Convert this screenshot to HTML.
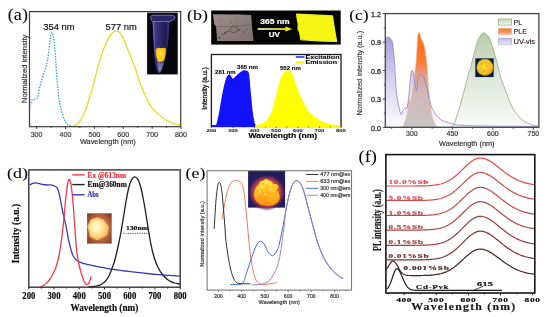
<!DOCTYPE html>
<html><head><meta charset="utf-8"><style>
html,body{margin:0;padding:0;background:#fff;}
body{width:550px;height:317px;overflow:hidden;}
svg{display:block;will-change:transform;}
</style></head><body>
<svg xmlns="http://www.w3.org/2000/svg" width="550" height="317" viewBox="0 0 550 317" shape-rendering="geometricPrecision">
<rect width="550" height="317" fill="#fff"/>
<text x="7.8" y="20.1" font-family="'Liberation Serif', serif" font-size="15.7" stroke="#222" stroke-width="0.05" textLength="20.2" lengthAdjust="spacingAndGlyphs">(a)</text>
<path d="M69.5 126.3 C69.85 126.3 70.6 126.48 71.6 126.3 C72.6 126.12 74.13 126.05 75.5 125.2 C76.87 124.35 78.55 122.82 79.8 121.2 C81.05 119.58 81.92 117.72 83 115.5 C84.08 113.28 85.22 110.82 86.3 107.9 C87.38 104.98 88.42 101.52 89.5 98 C90.58 94.48 91.72 90.72 92.8 86.8 C93.88 82.88 94.9 78.67 96 74.5 C97.1 70.33 98.17 65.95 99.4 61.8 C100.63 57.65 102.08 53.13 103.4 49.6 C104.72 46.07 106.12 43.03 107.3 40.6 C108.48 38.17 109.47 36.43 110.5 35 C111.53 33.57 112.55 32.63 113.5 32 C114.45 31.37 115.32 31.23 116.2 31.2 C117.08 31.17 117.95 31.13 118.8 31.8 C119.65 32.47 120.35 33.58 121.3 35.2 C122.25 36.82 123.45 39.17 124.5 41.5 C125.55 43.83 126.55 46.62 127.6 49.2 C128.65 51.78 129.57 53.98 130.8 57 C132.03 60.02 133.77 63.88 135 67.3 C136.23 70.72 137.12 74.25 138.2 77.5 C139.28 80.75 140.4 83.95 141.5 86.8 C142.6 89.65 143.72 92.17 144.8 94.6 C145.88 97.03 146.8 99.2 148 101.4 C149.2 103.6 150.67 106.03 152 107.8 C153.33 109.57 154.67 110.7 156 112 C157.33 113.3 158.73 114.57 160 115.6 C161.27 116.63 162.35 117.37 163.6 118.2 C164.85 119.03 166.18 119.87 167.5 120.6 C168.82 121.33 170.17 122.05 171.5 122.6 C172.83 123.15 174.17 123.53 175.5 123.9 C176.83 124.27 178.63 124.62 179.5 124.8 C180.37 124.98 180.5 124.97 180.7 125" fill="none" stroke="#e6dd22" stroke-width="1.3"/>
<path d="M29.6 106 C29.83 105.42 30.52 103.6 31 102.5 C31.48 101.4 31.73 99.95 32.5 99.4 C33.27 98.85 34.75 99.57 35.6 99.2 C36.45 98.83 36.97 98.98 37.6 97.2 C38.23 95.42 38.68 91.45 39.4 88.5 C40.12 85.55 41.07 82.33 41.9 79.5 C42.73 76.67 43.68 73.75 44.4 71.5 C45.12 69.25 45.67 67.92 46.2 66 C46.73 64.08 47.2 62.17 47.6 60 C48 57.83 48.27 55.67 48.6 53 C48.93 50.33 49.27 46.75 49.6 44 C49.93 41.25 50.23 38.42 50.6 36.5 C50.97 34.58 51.4 32.83 51.8 32.5 C52.2 32.17 52.6 32.92 53 34.5 C53.4 36.08 53.83 38.92 54.2 42 C54.57 45.08 54.92 49.33 55.2 53 C55.48 56.67 55.6 59.58 55.9 64 C56.2 68.42 56.6 74.75 57 79.5 C57.4 84.25 57.87 88.67 58.3 92.5 C58.73 96.33 58.97 99.12 59.6 102.5 C60.23 105.88 61.27 109.85 62.1 112.8 C62.93 115.75 63.87 118.42 64.6 120.2 C65.33 121.98 65.87 122.65 66.5 123.5 C67.13 124.35 67.73 124.88 68.4 125.3 C69.07 125.72 69.87 125.88 70.5 126 C71.13 126.12 71.92 126 72.2 126" fill="none" stroke="#35a4dc" stroke-width="1.35" stroke-dasharray="1.5 1.3"/>
<rect x="29.5" y="11.6" width="151.2" height="115.1" fill="none" stroke="#3a3a3a" stroke-width="1.2"/>
<line x1="36.6" y1="126.7" x2="36.6" y2="128.9" stroke="#3a3a3a" stroke-width="1"/>
<text x="36.6" y="136.8" font-family="'Liberation Sans', sans-serif" font-size="7.9" stroke="#333" stroke-width="0.18" fill="#333" text-anchor="middle" textLength="11.8" lengthAdjust="spacingAndGlyphs">300</text>
<line x1="65.48" y1="126.7" x2="65.48" y2="128.9" stroke="#3a3a3a" stroke-width="1"/>
<text x="65.48" y="136.8" font-family="'Liberation Sans', sans-serif" font-size="7.9" stroke="#333" stroke-width="0.18" fill="#333" text-anchor="middle" textLength="11.8" lengthAdjust="spacingAndGlyphs">400</text>
<line x1="94.36" y1="126.7" x2="94.36" y2="128.9" stroke="#3a3a3a" stroke-width="1"/>
<text x="94.36" y="136.8" font-family="'Liberation Sans', sans-serif" font-size="7.9" stroke="#333" stroke-width="0.18" fill="#333" text-anchor="middle" textLength="11.8" lengthAdjust="spacingAndGlyphs">500</text>
<line x1="123.24" y1="126.7" x2="123.24" y2="128.9" stroke="#3a3a3a" stroke-width="1"/>
<text x="123.24" y="136.8" font-family="'Liberation Sans', sans-serif" font-size="7.9" stroke="#333" stroke-width="0.18" fill="#333" text-anchor="middle" textLength="11.8" lengthAdjust="spacingAndGlyphs">600</text>
<line x1="152.12" y1="126.7" x2="152.12" y2="128.9" stroke="#3a3a3a" stroke-width="1"/>
<text x="152.12" y="136.8" font-family="'Liberation Sans', sans-serif" font-size="7.9" stroke="#333" stroke-width="0.18" fill="#333" text-anchor="middle" textLength="11.8" lengthAdjust="spacingAndGlyphs">700</text>
<line x1="181" y1="126.7" x2="181" y2="128.9" stroke="#3a3a3a" stroke-width="1"/>
<text x="181" y="136.8" font-family="'Liberation Sans', sans-serif" font-size="7.9" stroke="#333" stroke-width="0.18" fill="#333" text-anchor="middle" textLength="11.8" lengthAdjust="spacingAndGlyphs">800</text>
<line x1="51.04" y1="126.7" x2="51.04" y2="128" stroke="#3a3a3a" stroke-width="0.9"/>
<line x1="79.92" y1="126.7" x2="79.92" y2="128" stroke="#3a3a3a" stroke-width="0.9"/>
<line x1="108.8" y1="126.7" x2="108.8" y2="128" stroke="#3a3a3a" stroke-width="0.9"/>
<line x1="137.68" y1="126.7" x2="137.68" y2="128" stroke="#3a3a3a" stroke-width="0.9"/>
<line x1="166.56" y1="126.7" x2="166.56" y2="128" stroke="#3a3a3a" stroke-width="0.9"/>
<text x="79.9" y="143.8" font-family="'Liberation Sans', sans-serif" font-size="7.3" stroke="#333" stroke-width="0.18" fill="#333" textLength="55.9" lengthAdjust="spacingAndGlyphs">Wavelength (nm)</text>
<text x="26.7" y="103" font-family="'Liberation Sans', sans-serif" font-size="6.9" stroke="#333" stroke-width="0.18" fill="#333" textLength="68.3" lengthAdjust="spacingAndGlyphs" transform="rotate(-90 26.7 103)">Normalized intensity</text>
<text x="43.3" y="30.4" font-family="'Liberation Sans', sans-serif" font-size="9.4" stroke="#222" stroke-width="0.18" textLength="31.2" lengthAdjust="spacingAndGlyphs">354 nm</text>
<text x="105.5" y="30.4" font-family="'Liberation Sans', sans-serif" font-size="9.4" stroke="#222" stroke-width="0.18" textLength="31.2" lengthAdjust="spacingAndGlyphs">577 nm</text>
<rect x="147.1" y="12.7" width="30.6" height="61.7" fill="#06060c" stroke="none" stroke-width="1"/>
<defs><linearGradient id="tubeg" x1="0" y1="0" x2="1" y2="0"><stop offset="0" stop-color="#7270cc"/><stop offset="0.15" stop-color="#3a3888"/><stop offset="0.45" stop-color="#2a2a68"/><stop offset="0.75" stop-color="#1c1c4c"/><stop offset="1" stop-color="#38368a"/></linearGradient><radialGradient id="yelg" cx="0.5" cy="0.45" r="0.6"><stop offset="0" stop-color="#ffe23a"/><stop offset="0.7" stop-color="#ffc41a"/><stop offset="1" stop-color="#f0a414"/></radialGradient><linearGradient id="tipg" x1="0" y1="0" x2="0" y2="1"><stop offset="0" stop-color="#9a96e0"/><stop offset="1" stop-color="#c8c6f0"/></linearGradient></defs>
<path d="M152.6 21.3 L169.6 21.3 L168.6 38 L166.3 56 L162.8 68 L160 73.3 L158 72.8 L155.6 66 L154 48 Z" fill="url(#tubeg)" stroke="none" stroke-width="1"/>
<path d="M150.6 16.8 Q151 15.2 153.5 15.2 L171.5 15.2 Q175 15.6 175 17.6 L173.5 19.8 L169.8 21.4 L152.4 21.6 Q150.6 19.6 150.6 16.8 Z" fill="#262664" stroke="#8a86dc" stroke-width="0.8"/>
<path d="M155.6 49 Q158 47.2 161 48.2 Q164 47.2 166 48.6 L165.6 54 L164.2 60.5 Q161 63 157.8 62 L156.2 56 Z" fill="url(#yelg)" stroke="none" stroke-width="1"/>
<path d="M157.6 62.5 Q161 64 164 61.5 L162 68.5 L160 72.6 L158.2 70.5 Z" fill="url(#tipg)" stroke="none" stroke-width="1" opacity="0.55"/>
<line x1="153.3" y1="23" x2="155.3" y2="58" stroke="#8e8ae0" stroke-width="0.7" opacity="0.6"/>
<text x="187.1" y="19.7" font-family="'Liberation Serif', serif" font-size="15.3" stroke="#222" stroke-width="0.05" textLength="20.9" lengthAdjust="spacingAndGlyphs">(b)</text>
<rect x="211.2" y="10.5" width="129.5" height="34.1" fill="#050505" stroke="none" stroke-width="1"/>
<defs><linearGradient id="gcr" x1="0" y1="0" x2="1" y2="1"><stop offset="0" stop-color="#a09090"/><stop offset="0.5" stop-color="#8c7c7c"/><stop offset="1" stop-color="#807070"/></linearGradient></defs>
<path d="M213 14.2 L240 14.6 L251.2 15 L251.8 24.3 L253.4 39.8 L253.4 40.9 L235 40.9 L217.1 40.9 L216.6 33 L216 26.5 L214.3 24.3 Z" fill="url(#gcr)" stroke="none" stroke-width="1"/>
<path d="M216 26.5 Q232 27.5 251.8 24.8" fill="none" stroke="#5a4848" stroke-width="0.6" opacity="0.7"/>
<ellipse cx="234" cy="29.5" rx="4" ry="3" fill="none" stroke="#4a3a3a" stroke-width="0.9" opacity="0.7"/>
<circle cx="219.5" cy="37.5" r="0.9" fill="#3a2a2c" opacity="0.8"/>
<circle cx="222.5" cy="34.5" r="0.8" fill="#3a2a2c" opacity="0.8"/>
<circle cx="225" cy="33" r="0.9" fill="#3a2a2c" opacity="0.8"/>
<circle cx="228" cy="31.5" r="0.7" fill="#3a2a2c" opacity="0.8"/>
<circle cx="239.5" cy="30" r="0.8" fill="#3a2a2c" opacity="0.8"/>
<circle cx="244" cy="32" r="0.7" fill="#3a2a2c" opacity="0.8"/>
<circle cx="247.5" cy="29" r="0.6" fill="#3a2a2c" opacity="0.8"/>
<circle cx="231" cy="22" r="0.6" fill="#3a2a2c" opacity="0.8"/>
<circle cx="237" cy="21" r="0.5" fill="#3a2a2c" opacity="0.8"/>
<circle cx="221" cy="20" r="0.5" fill="#3a2a2c" opacity="0.8"/>
<text x="260.2" y="23.9" font-family="'Liberation Sans', sans-serif" font-size="7.1" stroke="#fff" stroke-width="0.18" font-weight="bold" fill="#fff" textLength="29.4" lengthAdjust="spacingAndGlyphs">365 nm</text>
<defs><linearGradient id="arrg" x1="0" y1="0" x2="1" y2="0"><stop offset="0" stop-color="#ffffff"/><stop offset="1" stop-color="#f0f000"/></linearGradient></defs>
<rect x="257.7" y="28.2" width="28" height="1.6" fill="url(#arrg)" stroke="none" stroke-width="1"/>
<path d="M285.3 26.5 L292.2 29 L285.3 31.5 Z" fill="#f4f400" stroke="none" stroke-width="1"/>
<text x="268.8" y="37" font-family="'Liberation Sans', sans-serif" font-size="7.0" stroke="#fff" stroke-width="0.18" font-weight="bold" fill="#fff" textLength="11.2" lengthAdjust="spacingAndGlyphs">UV</text>
<path d="M296.6 14.2 L332.4 15.8 L334.3 28 L336.6 41.4 L318 40.9 L300.9 39.6 L299.5 32 L298 29.5 L298.2 24 L297.2 19 Z" fill="#f6f614" stroke="#f0f020" stroke-width="1.2" stroke-linejoin="round"/>
<rect x="211.4" y="54.5" width="129.6" height="72" fill="none" stroke="#1a1a1a" stroke-width="1.3"/>
<path d="M211.4 124.9 C212.1 124.9 214.73 125.13 215.6 124.9 C216.47 124.67 216.03 125.48 216.6 123.5 C217.17 121.52 218.27 116.75 219 113 C219.73 109.25 220.33 104.75 221 101 C221.67 97.25 222.33 93.67 223 90.5 C223.67 87.33 224.33 84.33 225 82 C225.67 79.67 226.35 77.77 227 76.5 C227.65 75.23 228.32 74.62 228.9 74.4 C229.48 74.18 229.98 74.63 230.5 75.2 C231.02 75.77 231.58 77.22 232 77.8 C232.42 78.38 232.58 78.75 233 78.7 C233.42 78.65 233.92 78.03 234.5 77.5 C235.08 76.97 235.65 76.28 236.5 75.5 C237.35 74.72 238.77 73.52 239.6 72.8 C240.43 72.08 240.92 71.6 241.5 71.2 C242.08 70.8 242.52 70.57 243.1 70.4 C243.68 70.23 244.25 70.1 245 70.2 C245.75 70.3 247.02 70.67 247.6 71 C248.18 71.33 248.22 71.47 248.5 72.2 C248.78 72.93 249.07 73.85 249.3 75.4 C249.53 76.95 249.72 79.28 249.9 81.5 C250.08 83.72 250.22 86.53 250.4 88.7 C250.58 90.87 250.82 92.67 251 94.5 C251.18 96.33 251.23 97 251.5 99.7 C251.77 102.4 252.22 107.57 252.6 110.7 C252.98 113.83 253.47 116.53 253.8 118.5 C254.13 120.47 254.35 121.48 254.6 122.5 C254.85 123.52 255.07 124.12 255.3 124.6 C255.53 125.08 255.88 125.27 256 125.4 L256 127.1 L212 127.1 L212 126 L211.4 126 Z" fill="#1212fc" stroke="none" stroke-width="1"/>
<path d="M255 125.4 C255.73 125.27 258.15 124.9 259.4 124.6 C260.65 124.3 261.58 124.03 262.5 123.6 C263.42 123.17 264.1 122.68 264.9 122 C265.7 121.32 266.55 120.43 267.3 119.5 C268.05 118.57 268.75 117.57 269.4 116.4 C270.05 115.23 270.65 113.85 271.2 112.5 C271.75 111.15 272.25 109.72 272.7 108.3 C273.15 106.88 273.53 105.42 273.9 104 C274.27 102.58 274.55 101.25 274.9 99.8 C275.25 98.35 275.63 96.78 276 95.3 C276.37 93.82 276.73 92.38 277.1 90.9 C277.47 89.42 277.83 87.83 278.2 86.4 C278.57 84.97 278.83 83.77 279.3 82.3 C279.77 80.83 280.45 78.92 281 77.6 C281.55 76.28 282.02 75.37 282.6 74.4 C283.18 73.43 283.85 72.43 284.5 71.8 C285.15 71.17 285.9 70.85 286.5 70.6 C287.1 70.35 287.52 70.23 288.1 70.3 C288.68 70.37 289.22 70.13 290 71 C290.78 71.87 291.8 73.25 292.8 75.5 C293.8 77.75 294.97 81.67 296 84.5 C297.03 87.33 298 90.03 299 92.5 C300 94.97 300.92 97.05 302 99.3 C303.08 101.55 304.5 104.17 305.5 106 C306.5 107.83 307.15 109.12 308 110.3 C308.85 111.48 309.32 111.85 310.6 113.1 C311.88 114.35 313.82 116.43 315.7 117.8 C317.58 119.17 320.18 120.45 321.9 121.3 C323.62 122.15 324.65 122.45 326 122.9 C327.35 123.35 328.5 123.67 330 124 C331.5 124.33 333.17 124.63 335 124.9 C336.83 125.17 340 125.48 341 125.6 L340.4 127.1 L255 127.1 Z" fill="#ffff00" stroke="none" stroke-width="1"/>
<line x1="211.4" y1="126.5" x2="211.4" y2="127.7" stroke="#222" stroke-width="0.9"/>
<text x="211.4" y="131.9" font-family="'Liberation Sans', sans-serif" font-size="3.9" stroke="#333" stroke-width="0.1" font-weight="bold" fill="#333" text-anchor="middle" textLength="9.8" lengthAdjust="spacingAndGlyphs">200</text>
<line x1="233" y1="126.5" x2="233" y2="127.7" stroke="#222" stroke-width="0.9"/>
<text x="233" y="131.9" font-family="'Liberation Sans', sans-serif" font-size="3.9" stroke="#333" stroke-width="0.1" font-weight="bold" fill="#333" text-anchor="middle" textLength="9.8" lengthAdjust="spacingAndGlyphs">300</text>
<line x1="254.6" y1="126.5" x2="254.6" y2="127.7" stroke="#222" stroke-width="0.9"/>
<text x="254.6" y="131.9" font-family="'Liberation Sans', sans-serif" font-size="3.9" stroke="#333" stroke-width="0.1" font-weight="bold" fill="#333" text-anchor="middle" textLength="9.8" lengthAdjust="spacingAndGlyphs">400</text>
<line x1="276.2" y1="126.5" x2="276.2" y2="127.7" stroke="#222" stroke-width="0.9"/>
<text x="276.2" y="131.9" font-family="'Liberation Sans', sans-serif" font-size="3.9" stroke="#333" stroke-width="0.1" font-weight="bold" fill="#333" text-anchor="middle" textLength="9.8" lengthAdjust="spacingAndGlyphs">500</text>
<line x1="297.8" y1="126.5" x2="297.8" y2="127.7" stroke="#222" stroke-width="0.9"/>
<text x="297.8" y="131.9" font-family="'Liberation Sans', sans-serif" font-size="3.9" stroke="#333" stroke-width="0.1" font-weight="bold" fill="#333" text-anchor="middle" textLength="9.8" lengthAdjust="spacingAndGlyphs">600</text>
<line x1="319.4" y1="126.5" x2="319.4" y2="127.7" stroke="#222" stroke-width="0.9"/>
<text x="319.4" y="131.9" font-family="'Liberation Sans', sans-serif" font-size="3.9" stroke="#333" stroke-width="0.1" font-weight="bold" fill="#333" text-anchor="middle" textLength="9.8" lengthAdjust="spacingAndGlyphs">700</text>
<line x1="341" y1="126.5" x2="341" y2="127.7" stroke="#222" stroke-width="0.9"/>
<text x="341" y="131.9" font-family="'Liberation Sans', sans-serif" font-size="3.9" stroke="#333" stroke-width="0.1" font-weight="bold" fill="#333" text-anchor="middle" textLength="9.8" lengthAdjust="spacingAndGlyphs">800</text>
<line x1="222.2" y1="126.5" x2="222.2" y2="127.4" stroke="#222" stroke-width="0.8"/>
<line x1="243.8" y1="126.5" x2="243.8" y2="127.4" stroke="#222" stroke-width="0.8"/>
<line x1="265.4" y1="126.5" x2="265.4" y2="127.4" stroke="#222" stroke-width="0.8"/>
<line x1="287" y1="126.5" x2="287" y2="127.4" stroke="#222" stroke-width="0.8"/>
<line x1="308.6" y1="126.5" x2="308.6" y2="127.4" stroke="#222" stroke-width="0.8"/>
<line x1="330.2" y1="126.5" x2="330.2" y2="127.4" stroke="#222" stroke-width="0.8"/>
<text x="248.5" y="137.7" font-family="'Liberation Sans', sans-serif" font-size="6.6" stroke="#222" stroke-width="0.18" font-weight="bold" textLength="68.6" lengthAdjust="spacingAndGlyphs">Wavelength (nm)</text>
<text x="206.6" y="109.7" font-family="'Liberation Sans', sans-serif" font-size="6.8" stroke="#222" stroke-width="0.3" textLength="42.5" lengthAdjust="spacingAndGlyphs" transform="rotate(-90 206.6 109.7)">Intensity (a.u.)</text>
<text x="215.1" y="74" font-family="'Liberation Sans', sans-serif" font-size="4.6" stroke="#222" stroke-width="0.1" font-weight="bold" textLength="20.5" lengthAdjust="spacingAndGlyphs">281 nm</text>
<text x="237" y="69.4" font-family="'Liberation Sans', sans-serif" font-size="4.6" stroke="#222" stroke-width="0.1" font-weight="bold" textLength="21" lengthAdjust="spacingAndGlyphs">365 nm</text>
<text x="280" y="70.1" font-family="'Liberation Sans', sans-serif" font-size="4.6" stroke="#222" stroke-width="0.1" font-weight="bold" textLength="20.9" lengthAdjust="spacingAndGlyphs">552 nm</text>
<line x1="295.8" y1="57" x2="304.5" y2="57" stroke="#2030f0" stroke-width="1.6"/>
<line x1="295.8" y1="62.3" x2="304.5" y2="62.3" stroke="#f0f000" stroke-width="1.6"/>
<text x="305.5" y="58.7" font-family="'Liberation Sans', sans-serif" font-size="5.0" stroke="#222" stroke-width="0.1" font-weight="bold" textLength="34" lengthAdjust="spacingAndGlyphs">Excitation</text>
<text x="305.5" y="64.1" font-family="'Liberation Sans', sans-serif" font-size="5.0" stroke="#222" stroke-width="0.1" font-weight="bold" textLength="31.5" lengthAdjust="spacingAndGlyphs">Emission</text>
<text x="349.2" y="19.8" font-family="'Liberation Serif', serif" font-size="15.5" stroke="#222" stroke-width="0.05" textLength="19.5" lengthAdjust="spacingAndGlyphs">(c)</text>
<defs><linearGradient id="uvg" x1="0" y1="37" x2="0" y2="127.3" gradientUnits="userSpaceOnUse"><stop offset="0" stop-color="#8a7cc8"/><stop offset="0.45" stop-color="#c4bce6"/><stop offset="1" stop-color="#f8f7fd"/></linearGradient><linearGradient id="pleg" x1="0" y1="32" x2="0" y2="127.3" gradientUnits="userSpaceOnUse"><stop offset="0" stop-color="#ff6a14"/><stop offset="0.32" stop-color="#fa7c36"/><stop offset="0.45" stop-color="#e4a08c"/><stop offset="0.58" stop-color="#d0b4b2"/><stop offset="1" stop-color="#c8c6c6"/></linearGradient><linearGradient id="plg" x1="0" y1="33" x2="0" y2="127.3" gradientUnits="userSpaceOnUse"><stop offset="0" stop-color="#b8cbaa"/><stop offset="0.5" stop-color="#e0e7dc"/><stop offset="1" stop-color="#f9faf8"/></linearGradient><radialGradient id="sung" cx="0.45" cy="0.45" r="0.55"><stop offset="0" stop-color="#f8d838"/><stop offset="0.75" stop-color="#f0c022"/><stop offset="1" stop-color="#e09a18"/></radialGradient></defs>
<path d="M449 127.2 C449.55 127.1 451.43 127.15 452.3 126.6 C453.17 126.05 453.5 125.5 454.2 123.9 C454.9 122.3 455.72 119.37 456.5 117 C457.28 114.63 458.1 112.37 458.9 109.7 C459.7 107.03 460.5 103.85 461.3 101 C462.1 98.15 462.98 95.27 463.7 92.6 C464.42 89.93 464.97 87.52 465.6 85 C466.23 82.48 466.93 79.67 467.5 77.5 C468.07 75.33 468.53 73.43 469 72 C469.47 70.57 469.77 70.73 470.3 68.9 C470.83 67.07 471.57 63.52 472.2 61 C472.83 58.48 473.47 56.22 474.1 53.8 C474.73 51.38 475.37 48.72 476 46.5 C476.63 44.28 477.23 42.25 477.9 40.5 C478.57 38.75 479.32 37.15 480 36 C480.68 34.85 481.38 34.12 482 33.6 C482.62 33.08 483.1 32.9 483.7 32.9 C484.3 32.9 484.95 33.15 485.6 33.6 C486.25 34.05 486.93 34.77 487.6 35.6 C488.27 36.43 488.9 37.12 489.6 38.6 C490.3 40.08 491.07 42.28 491.8 44.5 C492.53 46.72 493.32 49.57 494 51.9 C494.68 54.23 495.28 56.3 495.9 58.5 C496.52 60.7 497 62.3 497.7 65.1 C498.4 67.9 499.18 72.07 500.1 75.3 C501.02 78.53 502.15 81.57 503.2 84.5 C504.25 87.43 505.35 90.18 506.4 92.9 C507.45 95.62 508.45 98.27 509.5 100.8 C510.55 103.33 511.53 105.95 512.7 108.1 C513.87 110.25 515.23 112.02 516.5 113.7 C517.77 115.38 519.05 116.95 520.3 118.2 C521.55 119.45 522.73 120.37 524 121.2 C525.27 122.03 526.57 122.6 527.9 123.2 C529.23 123.8 530.53 124.37 532 124.8 C533.47 125.23 535.6 125.58 536.7 125.8 C537.8 126.02 538.28 126.05 538.6 126.1 L538.6 127.3 L449 127.3 Z" fill="url(#plg)" stroke="none" stroke-width="1"/>
<path d="M385.6 38.6 C385.75 38.47 386.17 38.03 386.5 37.8 C386.83 37.57 387.23 37.32 387.6 37.2 C387.97 37.08 388.3 36.97 388.7 37.1 C389.1 37.23 389.58 37.58 390 38 C390.42 38.42 390.78 38.87 391.2 39.6 C391.62 40.33 392.13 40.67 392.5 42.4 C392.87 44.13 393.08 46.85 393.4 50 C393.72 53.15 394.08 56.97 394.4 61.3 C394.72 65.63 394.98 71.1 395.3 76 C395.62 80.9 395.92 86.7 396.3 90.7 C396.68 94.7 397.13 97.15 397.6 100 C398.07 102.85 398.53 105.4 399.1 107.8 C399.67 110.2 400.37 113.93 401 114.4 C401.63 114.87 402.33 111.58 402.9 110.6 C403.47 109.62 403.92 108.97 404.4 108.5 C404.88 108.03 405.42 107.77 405.8 107.8 C406.18 107.83 406.4 109.17 406.7 108.7 C407 108.23 407.28 106.73 407.6 105 C407.92 103.27 408.28 101.13 408.6 98.3 C408.92 95.47 409.18 91.47 409.5 88 C409.82 84.53 410.2 80.17 410.5 77.5 C410.8 74.83 411.05 73.2 411.3 72 C411.55 70.8 411.75 70.43 412 70.3 C412.25 70.17 412.57 70.63 412.8 71.2 C413.03 71.77 413.15 72.4 413.4 73.7 C413.65 75 414 77.12 414.3 79 C414.6 80.88 414.92 83.25 415.2 85 C415.48 86.75 415.77 88.55 416 89.5 C416.23 90.45 416.38 91.45 416.6 90.7 C416.82 89.95 417.05 87.2 417.3 85 C417.55 82.8 417.73 79.25 418.1 77.5 C418.47 75.75 419.02 75.13 419.5 74.5 C419.98 73.87 420.5 73.62 421 73.7 C421.5 73.78 422.03 74.37 422.5 75 C422.97 75.63 423.35 76.33 423.8 77.5 C424.25 78.67 424.73 80.43 425.2 82 C425.67 83.57 426.13 85.07 426.6 86.9 C427.07 88.73 427.53 90.78 428 93 C428.47 95.22 428.93 98.2 429.4 100.2 C429.87 102.2 430.32 103.58 430.8 105 C431.28 106.42 431.68 107.45 432.3 108.7 C432.92 109.95 433.72 111.23 434.5 112.5 C435.28 113.77 436.08 115.22 437 116.3 C437.92 117.38 438.83 118.18 440 119 C441.17 119.82 442.67 120.6 444 121.2 C445.33 121.8 446.3 122.07 448 122.6 C449.7 123.13 452.2 123.97 454.2 124.4 C456.2 124.83 457.37 124.98 460 125.2 C462.63 125.42 465 125.55 470 125.7 C475 125.85 478.58 125.97 490 126.1 C501.42 126.23 530.42 126.43 538.5 126.5 L538.5 127.3 L385.6 127.3 Z" fill="url(#uvg)" stroke="none" stroke-width="1" opacity="0.72"/>
<path d="M402 127.2 C402.17 127 402.5 126.87 403 126 C403.5 125.13 404.42 123.5 405 122 C405.58 120.5 406.05 118.73 406.5 117 C406.95 115.27 407.4 113.77 407.7 111.6 C408 109.43 408.15 106.02 408.3 104 C408.45 101.98 408.4 100.08 408.6 99.5 C408.8 98.92 409.18 100.23 409.5 100.5 C409.82 100.77 410.17 101.6 410.5 101.1 C410.83 100.6 411.18 98.92 411.5 97.5 C411.82 96.08 412.08 94.68 412.4 92.6 C412.72 90.52 413.08 87.52 413.4 85 C413.72 82.48 414 80 414.3 77.5 C414.6 75 414.88 72.7 415.2 70 C415.52 67.3 415.9 64.97 416.2 61.3 C416.5 57.63 416.75 52.1 417 48 C417.25 43.9 417.48 39.12 417.7 36.7 C417.92 34.28 418.08 34.22 418.3 33.5 C418.52 32.78 418.75 32.32 419 32.4 C419.25 32.48 419.5 33.15 419.8 34 C420.1 34.85 420.45 36.42 420.8 37.5 C421.15 38.58 421.4 39.37 421.9 40.5 C422.4 41.63 423.28 42.72 423.8 44.3 C424.32 45.88 424.63 47.8 425 50 C425.37 52.2 425.67 54.83 426 57.5 C426.33 60.17 426.73 63.42 427 66 C427.27 68.58 427.38 69.83 427.6 73 C427.82 76.17 428 81.1 428.3 85 C428.6 88.9 429.05 93.07 429.4 96.4 C429.75 99.73 430.08 102.15 430.4 105 C430.72 107.85 430.87 111.08 431.3 113.5 C431.73 115.92 432.37 117.77 433 119.5 C433.63 121.23 434.43 122.72 435.1 123.9 C435.77 125.08 436.52 126.05 437 126.6 C437.48 127.15 437.83 127.1 438 127.2 Z" fill="url(#pleg)" stroke="none" stroke-width="1"/>
<path d="M402 127.2 C402.17 127 402.5 126.87 403 126 C403.5 125.13 404.42 123.5 405 122 C405.58 120.5 406.05 118.73 406.5 117 C406.95 115.27 407.4 113.77 407.7 111.6 C408 109.43 408.15 106.02 408.3 104 C408.45 101.98 408.4 100.08 408.6 99.5 C408.8 98.92 409.18 100.23 409.5 100.5 C409.82 100.77 410.17 101.6 410.5 101.1 C410.83 100.6 411.18 98.92 411.5 97.5 C411.82 96.08 412.08 94.68 412.4 92.6 C412.72 90.52 413.08 87.52 413.4 85 C413.72 82.48 414 80 414.3 77.5 C414.6 75 414.88 72.7 415.2 70 C415.52 67.3 415.9 64.97 416.2 61.3 C416.5 57.63 416.75 52.1 417 48 C417.25 43.9 417.48 39.12 417.7 36.7 C417.92 34.28 418.08 34.22 418.3 33.5 C418.52 32.78 418.75 32.32 419 32.4 C419.25 32.48 419.5 33.15 419.8 34 C420.1 34.85 420.45 36.42 420.8 37.5 C421.15 38.58 421.4 39.37 421.9 40.5 C422.4 41.63 423.28 42.72 423.8 44.3 C424.32 45.88 424.63 47.8 425 50 C425.37 52.2 425.67 54.83 426 57.5 C426.33 60.17 426.73 63.42 427 66 C427.27 68.58 427.38 69.83 427.6 73 C427.82 76.17 428 81.1 428.3 85 C428.6 88.9 429.05 93.07 429.4 96.4 C429.75 99.73 430.08 102.15 430.4 105 C430.72 107.85 430.87 111.08 431.3 113.5 C431.73 115.92 432.37 117.77 433 119.5 C433.63 121.23 434.43 122.72 435.1 123.9 C435.77 125.08 436.52 126.05 437 126.6 C437.48 127.15 437.83 127.1 438 127.2" fill="none" stroke="#f5b888" stroke-width="0.7"/>
<path d="M449 127.2 C449.55 127.1 451.43 127.15 452.3 126.6 C453.17 126.05 453.5 125.5 454.2 123.9 C454.9 122.3 455.72 119.37 456.5 117 C457.28 114.63 458.1 112.37 458.9 109.7 C459.7 107.03 460.5 103.85 461.3 101 C462.1 98.15 462.98 95.27 463.7 92.6 C464.42 89.93 464.97 87.52 465.6 85 C466.23 82.48 466.93 79.67 467.5 77.5 C468.07 75.33 468.53 73.43 469 72 C469.47 70.57 469.77 70.73 470.3 68.9 C470.83 67.07 471.57 63.52 472.2 61 C472.83 58.48 473.47 56.22 474.1 53.8 C474.73 51.38 475.37 48.72 476 46.5 C476.63 44.28 477.23 42.25 477.9 40.5 C478.57 38.75 479.32 37.15 480 36 C480.68 34.85 481.38 34.12 482 33.6 C482.62 33.08 483.1 32.9 483.7 32.9 C484.3 32.9 484.95 33.15 485.6 33.6 C486.25 34.05 486.93 34.77 487.6 35.6 C488.27 36.43 488.9 37.12 489.6 38.6 C490.3 40.08 491.07 42.28 491.8 44.5 C492.53 46.72 493.32 49.57 494 51.9 C494.68 54.23 495.28 56.3 495.9 58.5 C496.52 60.7 497 62.3 497.7 65.1 C498.4 67.9 499.18 72.07 500.1 75.3 C501.02 78.53 502.15 81.57 503.2 84.5 C504.25 87.43 505.35 90.18 506.4 92.9 C507.45 95.62 508.45 98.27 509.5 100.8 C510.55 103.33 511.53 105.95 512.7 108.1 C513.87 110.25 515.23 112.02 516.5 113.7 C517.77 115.38 519.05 116.95 520.3 118.2 C521.55 119.45 522.73 120.37 524 121.2 C525.27 122.03 526.57 122.6 527.9 123.2 C529.23 123.8 530.53 124.37 532 124.8 C533.47 125.23 535.6 125.58 536.7 125.8 C537.8 126.02 538.28 126.05 538.6 126.1" fill="none" stroke="#86b078" stroke-width="0.8"/>
<path d="M385.6 38.6 C385.75 38.47 386.17 38.03 386.5 37.8 C386.83 37.57 387.23 37.32 387.6 37.2 C387.97 37.08 388.3 36.97 388.7 37.1 C389.1 37.23 389.58 37.58 390 38 C390.42 38.42 390.78 38.87 391.2 39.6 C391.62 40.33 392.13 40.67 392.5 42.4 C392.87 44.13 393.08 46.85 393.4 50 C393.72 53.15 394.08 56.97 394.4 61.3 C394.72 65.63 394.98 71.1 395.3 76 C395.62 80.9 395.92 86.7 396.3 90.7 C396.68 94.7 397.13 97.15 397.6 100 C398.07 102.85 398.53 105.4 399.1 107.8 C399.67 110.2 400.37 113.93 401 114.4 C401.63 114.87 402.33 111.58 402.9 110.6 C403.47 109.62 403.92 108.97 404.4 108.5 C404.88 108.03 405.42 107.77 405.8 107.8 C406.18 107.83 406.4 109.17 406.7 108.7 C407 108.23 407.28 106.73 407.6 105 C407.92 103.27 408.28 101.13 408.6 98.3 C408.92 95.47 409.18 91.47 409.5 88 C409.82 84.53 410.2 80.17 410.5 77.5 C410.8 74.83 411.05 73.2 411.3 72 C411.55 70.8 411.75 70.43 412 70.3 C412.25 70.17 412.57 70.63 412.8 71.2 C413.03 71.77 413.15 72.4 413.4 73.7 C413.65 75 414 77.12 414.3 79 C414.6 80.88 414.92 83.25 415.2 85 C415.48 86.75 415.77 88.55 416 89.5 C416.23 90.45 416.38 91.45 416.6 90.7 C416.82 89.95 417.05 87.2 417.3 85 C417.55 82.8 417.73 79.25 418.1 77.5 C418.47 75.75 419.02 75.13 419.5 74.5 C419.98 73.87 420.5 73.62 421 73.7 C421.5 73.78 422.03 74.37 422.5 75 C422.97 75.63 423.35 76.33 423.8 77.5 C424.25 78.67 424.73 80.43 425.2 82 C425.67 83.57 426.13 85.07 426.6 86.9 C427.07 88.73 427.53 90.78 428 93 C428.47 95.22 428.93 98.2 429.4 100.2 C429.87 102.2 430.32 103.58 430.8 105 C431.28 106.42 431.68 107.45 432.3 108.7 C432.92 109.95 433.72 111.23 434.5 112.5 C435.28 113.77 436.08 115.22 437 116.3 C437.92 117.38 438.83 118.18 440 119 C441.17 119.82 442.67 120.6 444 121.2 C445.33 121.8 446.3 122.07 448 122.6 C449.7 123.13 452.2 123.97 454.2 124.4 C456.2 124.83 457.37 124.98 460 125.2 C462.63 125.42 465 125.55 470 125.7 C475 125.85 478.58 125.97 490 126.1 C501.42 126.23 530.42 126.43 538.5 126.5" fill="none" stroke="#8e80c8" stroke-width="0.8"/>
<rect x="474.9" y="57.9" width="19.2" height="19.5" fill="#0b1f3a" stroke="#e4ebe0" stroke-width="0.8"/>
<circle cx="485" cy="67.4" r="8.4" fill="url(#sung)"/>
<circle cx="482" cy="64" r="1.2" fill="#d8a018" opacity="0.55"/>
<circle cx="487.5" cy="66" r="1.1" fill="#d8a018" opacity="0.55"/>
<circle cx="484" cy="70.5" r="1.3" fill="#d8a018" opacity="0.55"/>
<circle cx="488.5" cy="71" r="0.9" fill="#d8a018" opacity="0.55"/>
<circle cx="480.5" cy="68.5" r="0.9" fill="#d8a018" opacity="0.55"/>
<circle cx="485.5" cy="62.5" r="0.8" fill="#d8a018" opacity="0.55"/>
<rect x="385.3" y="13.6" width="153.6" height="113.7" fill="none" stroke="#444" stroke-width="1.3"/>
<line x1="382.7" y1="127.3" x2="385.3" y2="127.3" stroke="#444" stroke-width="1"/>
<text x="380.9" y="130.5" font-family="'Liberation Sans', sans-serif" font-size="7.1" stroke="#333" stroke-width="0.3" fill="#333" text-anchor="end" textLength="10" lengthAdjust="spacingAndGlyphs">0.0</text>
<line x1="382.7" y1="98.88" x2="385.3" y2="98.88" stroke="#444" stroke-width="1"/>
<text x="380.9" y="102.08" font-family="'Liberation Sans', sans-serif" font-size="7.1" stroke="#333" stroke-width="0.3" fill="#333" text-anchor="end" textLength="10" lengthAdjust="spacingAndGlyphs">0.3</text>
<line x1="382.7" y1="70.45" x2="385.3" y2="70.45" stroke="#444" stroke-width="1"/>
<text x="380.9" y="73.65" font-family="'Liberation Sans', sans-serif" font-size="7.1" stroke="#333" stroke-width="0.3" fill="#333" text-anchor="end" textLength="10" lengthAdjust="spacingAndGlyphs">0.6</text>
<line x1="382.7" y1="42.02" x2="385.3" y2="42.02" stroke="#444" stroke-width="1"/>
<text x="380.9" y="45.22" font-family="'Liberation Sans', sans-serif" font-size="7.1" stroke="#333" stroke-width="0.3" fill="#333" text-anchor="end" textLength="10" lengthAdjust="spacingAndGlyphs">0.9</text>
<line x1="382.7" y1="13.6" x2="385.3" y2="13.6" stroke="#444" stroke-width="1"/>
<text x="380.9" y="16.8" font-family="'Liberation Sans', sans-serif" font-size="7.1" stroke="#333" stroke-width="0.3" fill="#333" text-anchor="end" textLength="10" lengthAdjust="spacingAndGlyphs">1.2</text>
<line x1="383.8" y1="113.09" x2="385.3" y2="113.09" stroke="#444" stroke-width="0.9"/>
<line x1="383.8" y1="84.66" x2="385.3" y2="84.66" stroke="#444" stroke-width="0.9"/>
<line x1="383.8" y1="56.24" x2="385.3" y2="56.24" stroke="#444" stroke-width="0.9"/>
<line x1="383.8" y1="27.81" x2="385.3" y2="27.81" stroke="#444" stroke-width="0.9"/>
<line x1="411.9" y1="127.3" x2="411.9" y2="129.7" stroke="#444" stroke-width="1"/>
<text x="411.9" y="135.9" font-family="'Liberation Sans', sans-serif" font-size="7" stroke="#333" stroke-width="0.18" fill="#333" text-anchor="middle" textLength="11.6" lengthAdjust="spacingAndGlyphs">300</text>
<line x1="452.4" y1="127.3" x2="452.4" y2="129.7" stroke="#444" stroke-width="1"/>
<text x="452.4" y="135.9" font-family="'Liberation Sans', sans-serif" font-size="7" stroke="#333" stroke-width="0.18" fill="#333" text-anchor="middle" textLength="11.6" lengthAdjust="spacingAndGlyphs">450</text>
<line x1="492.9" y1="127.3" x2="492.9" y2="129.7" stroke="#444" stroke-width="1"/>
<text x="492.9" y="135.9" font-family="'Liberation Sans', sans-serif" font-size="7" stroke="#333" stroke-width="0.18" fill="#333" text-anchor="middle" textLength="11.6" lengthAdjust="spacingAndGlyphs">600</text>
<line x1="533.4" y1="127.3" x2="533.4" y2="129.7" stroke="#444" stroke-width="1"/>
<text x="533.4" y="135.9" font-family="'Liberation Sans', sans-serif" font-size="7" stroke="#333" stroke-width="0.18" fill="#333" text-anchor="middle" textLength="11.6" lengthAdjust="spacingAndGlyphs">750</text>
<line x1="391.65" y1="127.3" x2="391.65" y2="128.8" stroke="#444" stroke-width="0.9"/>
<line x1="432.15" y1="127.3" x2="432.15" y2="128.8" stroke="#444" stroke-width="0.9"/>
<line x1="472.65" y1="127.3" x2="472.65" y2="128.8" stroke="#444" stroke-width="0.9"/>
<line x1="513.15" y1="127.3" x2="513.15" y2="128.8" stroke="#444" stroke-width="0.9"/>
<text x="439.1" y="146.2" font-family="'Liberation Sans', sans-serif" font-size="7.3" stroke="#333" stroke-width="0.18" fill="#333" textLength="55.4" lengthAdjust="spacingAndGlyphs">Wavelength (nm)</text>
<text x="361.8" y="115.4" font-family="'Liberation Sans', sans-serif" font-size="7.0" stroke="#444" stroke-width="0.18" fill="#444" textLength="84.5" lengthAdjust="spacingAndGlyphs" transform="rotate(-90 361.8 115.4)">Normalized intensity (a.u.)</text>
<defs><linearGradient id="lg1" x1="0" y1="0" x2="0" y2="1"><stop offset="0" stop-color="#c0d4b2"/><stop offset="1" stop-color="#f4f7f2"/></linearGradient><linearGradient id="lg2" x1="0" y1="0" x2="0" y2="1"><stop offset="0" stop-color="#ff7020"/><stop offset="0.5" stop-color="#f59060"/><stop offset="1" stop-color="#d9b8b0"/></linearGradient><linearGradient id="lg3" x1="0" y1="0" x2="0" y2="1"><stop offset="0" stop-color="#c0b6e6"/><stop offset="1" stop-color="#ece8f8"/></linearGradient></defs>
<rect x="498.3" y="18.9" width="13.3" height="6.3" fill="url(#lg1)" stroke="#8cb47e" stroke-width="0.7"/>
<rect x="498.3" y="28.5" width="13.3" height="6" fill="url(#lg2)" stroke="#f5a070" stroke-width="0.5"/>
<rect x="498.3" y="38.2" width="13.3" height="6" fill="url(#lg3)" stroke="#a89ad8" stroke-width="0.6"/>
<text x="513.6" y="24.8" font-family="'Liberation Sans', sans-serif" font-size="7.8" stroke="#3a2626" stroke-width="0.18" fill="#3a2626" textLength="8.6" lengthAdjust="spacingAndGlyphs">PL</text>
<text x="513.6" y="34.2" font-family="'Liberation Sans', sans-serif" font-size="7.8" stroke="#3a2626" stroke-width="0.18" fill="#3a2626" textLength="13.4" lengthAdjust="spacingAndGlyphs">PLE</text>
<text x="513.6" y="43.6" font-family="'Liberation Sans', sans-serif" font-size="7.8" stroke="#3a2626" stroke-width="0.18" fill="#3a2626" textLength="21.5" lengthAdjust="spacingAndGlyphs">UV-vis</text>
<text x="7.1" y="177.7" font-family="'Liberation Serif', serif" font-size="15.1" stroke="#222" stroke-width="0.05" textLength="20.9" lengthAdjust="spacingAndGlyphs">(d)</text>
<defs><radialGradient id="dbg" cx="0.5" cy="0.5" r="0.72"><stop offset="0" stop-color="#e08a48"/><stop offset="0.5" stop-color="#c06a3c"/><stop offset="0.85" stop-color="#8a4430"/><stop offset="1" stop-color="#5e2e24"/></radialGradient><radialGradient id="dcr" cx="0.42" cy="0.42" r="0.6"><stop offset="0" stop-color="#fffbe0"/><stop offset="0.45" stop-color="#ffeaa0"/><stop offset="0.85" stop-color="#fcc870"/><stop offset="1" stop-color="#f4a858"/></radialGradient></defs>
<rect x="87.1" y="213.3" width="24.6" height="30.3" fill="url(#dbg)" stroke="none" stroke-width="1"/>
<path d="M91.5 219.6 L97.5 217.8 L103.5 220.2 L108.3 227.5 L106.5 235.2 L97 239.6 L90.6 236.6 L88 226 Z" fill="url(#dcr)" stroke="#f6b868" stroke-width="1.4" stroke-linejoin="round"/>
<path d="M29.5 185.3 C29.92 185.03 30.97 184.1 32 183.7 C33.03 183.3 34.45 182.92 35.7 182.9 C36.95 182.88 38.28 183.33 39.5 183.6 C40.72 183.87 41.75 184.27 43 184.5 C44.25 184.73 45.72 184.93 47 185 C48.28 185.07 49.7 184.83 50.7 184.9 C51.7 184.97 52.3 185.17 53 185.4 C53.7 185.63 54.32 185.98 54.9 186.3 C55.48 186.62 56.02 186.82 56.5 187.3 C56.98 187.78 57.38 188.25 57.8 189.2 C58.22 190.15 58.67 191.78 59 193 C59.33 194.22 59.52 195.17 59.8 196.5 C60.08 197.83 60.42 199.42 60.7 201 C60.98 202.58 61.2 204.42 61.5 206 C61.8 207.58 62.18 209.05 62.5 210.5 C62.82 211.95 62.92 212.58 63.4 214.7 C63.88 216.82 64.83 220.65 65.4 223.2 C65.97 225.75 66.32 227.45 66.8 230 C67.28 232.55 67.77 235.85 68.3 238.5 C68.83 241.15 69.47 243.73 70 245.9 C70.53 248.07 71 249.9 71.5 251.5 C72 253.1 72.42 254.32 73 255.5 C73.58 256.68 74.33 257.75 75 258.6 C75.67 259.45 76.3 260.07 77 260.6 C77.7 261.13 78.2 261.35 79.2 261.8 C80.2 262.25 81.7 262.88 83 263.3 C84.3 263.72 85.38 263.9 87 264.3 C88.62 264.7 90.53 265.22 92.7 265.7 C94.87 266.18 97.62 266.75 100 267.2 C102.38 267.65 104.58 268.02 107 268.4 C109.42 268.78 111.5 269.07 114.5 269.5 C117.5 269.93 121.35 270.53 125 271 C128.65 271.47 132.73 271.88 136.4 272.3 C140.07 272.72 143.37 273.12 147 273.5 C150.63 273.88 154.53 274.28 158.2 274.6 C161.87 274.92 165.37 275.15 169 275.4 C172.63 275.65 178.17 275.98 180 276.1" fill="none" stroke="#3a3ab8" stroke-width="1.3"/>
<path d="M40 287.2 C40.3 287.1 41.05 287 41.8 286.6 C42.55 286.2 43.55 285.55 44.5 284.8 C45.45 284.05 46.58 283.07 47.5 282.1 C48.42 281.13 49.22 280.1 50 279 C50.78 277.9 51.5 276.75 52.2 275.5 C52.9 274.25 53.57 272.92 54.2 271.5 C54.83 270.08 55.45 268.58 56 267 C56.55 265.42 57.02 263.75 57.5 262 C57.98 260.25 58.45 258.67 58.9 256.5 C59.35 254.33 59.78 251.67 60.2 249 C60.62 246.33 61 243.5 61.4 240.5 C61.8 237.5 62.22 234.25 62.6 231 C62.98 227.75 63.35 224.5 63.7 221 C64.05 217.5 64.37 213.67 64.7 210 C65.03 206.33 65.37 202.33 65.7 199 C66.03 195.67 66.37 192.58 66.7 190 C67.03 187.42 67.32 185.28 67.7 183.5 C68.08 181.72 68.58 179.68 69 179.3 C69.42 178.92 69.83 180.17 70.2 181.2 C70.57 182.23 70.87 183.37 71.2 185.5 C71.53 187.63 71.88 190.92 72.2 194 C72.52 197.08 72.82 200.67 73.1 204 C73.38 207.33 73.63 210.5 73.9 214 C74.17 217.5 74.42 221 74.7 225 C74.98 229 75.28 233.92 75.6 238 C75.92 242.08 76.27 246.33 76.6 249.5 C76.93 252.67 77.23 254.67 77.6 257 C77.97 259.33 78.37 261.42 78.8 263.5 C79.23 265.58 79.7 267.58 80.2 269.5 C80.7 271.42 81.25 273.28 81.8 275 C82.35 276.72 82.97 278.5 83.5 279.8 C84.03 281.1 84.48 282.03 85 282.8 C85.52 283.57 86.1 284.15 86.6 284.4 C87.1 284.65 87.57 284.65 88 284.3 C88.43 283.95 88.83 283.1 89.2 282.3 C89.57 281.5 89.87 280.52 90.2 279.5 C90.53 278.48 91.03 276.75 91.2 276.2" fill="none" stroke="#f03a48" stroke-width="1.3"/>
<path d="M88.4 286.8 C89.37 286.75 92.43 286.75 94.2 286.5 C95.97 286.25 97.53 285.85 99 285.3 C100.47 284.75 101.83 284 103 283.2 C104.17 282.4 105.08 281.57 106 280.5 C106.92 279.43 107.75 278.13 108.5 276.8 C109.25 275.47 109.83 274.13 110.5 272.5 C111.17 270.87 111.83 268.87 112.5 267 C113.17 265.13 113.83 263.55 114.5 261.3 C115.17 259.05 115.83 256.3 116.5 253.5 C117.17 250.7 117.83 247.67 118.5 244.5 C119.17 241.33 119.83 238.08 120.5 234.5 C121.17 230.92 121.85 226.83 122.5 223 C123.15 219.17 123.78 215.25 124.4 211.5 C125.02 207.75 125.6 203.92 126.2 200.5 C126.8 197.08 127.37 193.83 128 191 C128.63 188.17 129.28 185.57 130 183.5 C130.72 181.43 131.52 179.7 132.3 178.6 C133.08 177.5 133.9 176.93 134.7 176.9 C135.5 176.87 136.33 177.47 137.1 178.4 C137.87 179.33 138.6 180.65 139.3 182.5 C140 184.35 140.65 186.83 141.3 189.5 C141.95 192.17 142.58 195.33 143.2 198.5 C143.82 201.67 144.4 205 145 208.5 C145.6 212 146.22 215.83 146.8 219.5 C147.38 223.17 147.92 226.92 148.5 230.5 C149.08 234.08 149.67 237.67 150.3 241 C150.93 244.33 151.6 247.58 152.3 250.5 C153 253.42 153.67 255.95 154.5 258.5 C155.33 261.05 156.3 263.58 157.3 265.8 C158.3 268.02 159.38 270.05 160.5 271.8 C161.62 273.55 162.83 275.02 164 276.3 C165.17 277.58 166.33 278.6 167.5 279.5 C168.67 280.4 169.83 281.12 171 281.7 C172.17 282.28 173.42 282.67 174.5 283 C175.58 283.33 176.58 283.53 177.5 283.7 C178.42 283.87 179.58 283.95 180 284" fill="none" stroke="#1e1e1e" stroke-width="1.3"/>
<rect x="28.8" y="169.9" width="151.4" height="117.3" fill="none" stroke="#404040" stroke-width="1.5"/>
<line x1="28.8" y1="287.2" x2="28.8" y2="289.5" stroke="#333" stroke-width="1"/>
<text x="28.8" y="298.8" font-family="'Liberation Serif', serif" font-size="10" stroke="#222" stroke-width="0.18" font-weight="bold" text-anchor="middle" textLength="13" lengthAdjust="spacingAndGlyphs">200</text>
<line x1="54.03" y1="287.2" x2="54.03" y2="289.5" stroke="#333" stroke-width="1"/>
<text x="54.03" y="298.8" font-family="'Liberation Serif', serif" font-size="10" stroke="#222" stroke-width="0.18" font-weight="bold" text-anchor="middle" textLength="13" lengthAdjust="spacingAndGlyphs">300</text>
<line x1="79.26" y1="287.2" x2="79.26" y2="289.5" stroke="#333" stroke-width="1"/>
<text x="79.26" y="298.8" font-family="'Liberation Serif', serif" font-size="10" stroke="#222" stroke-width="0.18" font-weight="bold" text-anchor="middle" textLength="13" lengthAdjust="spacingAndGlyphs">400</text>
<line x1="104.49" y1="287.2" x2="104.49" y2="289.5" stroke="#333" stroke-width="1"/>
<text x="104.49" y="298.8" font-family="'Liberation Serif', serif" font-size="10" stroke="#222" stroke-width="0.18" font-weight="bold" text-anchor="middle" textLength="13" lengthAdjust="spacingAndGlyphs">500</text>
<line x1="129.72" y1="287.2" x2="129.72" y2="289.5" stroke="#333" stroke-width="1"/>
<text x="129.72" y="298.8" font-family="'Liberation Serif', serif" font-size="10" stroke="#222" stroke-width="0.18" font-weight="bold" text-anchor="middle" textLength="13" lengthAdjust="spacingAndGlyphs">600</text>
<line x1="154.95" y1="287.2" x2="154.95" y2="289.5" stroke="#333" stroke-width="1"/>
<text x="154.95" y="298.8" font-family="'Liberation Serif', serif" font-size="10" stroke="#222" stroke-width="0.18" font-weight="bold" text-anchor="middle" textLength="13" lengthAdjust="spacingAndGlyphs">700</text>
<line x1="180.18" y1="287.2" x2="180.18" y2="289.5" stroke="#333" stroke-width="1"/>
<text x="180.18" y="298.8" font-family="'Liberation Serif', serif" font-size="10" stroke="#222" stroke-width="0.18" font-weight="bold" text-anchor="middle" textLength="13" lengthAdjust="spacingAndGlyphs">800</text>
<line x1="41.42" y1="287.2" x2="41.42" y2="288.7" stroke="#333" stroke-width="0.9"/>
<line x1="66.65" y1="287.2" x2="66.65" y2="288.7" stroke="#333" stroke-width="0.9"/>
<line x1="91.88" y1="287.2" x2="91.88" y2="288.7" stroke="#333" stroke-width="0.9"/>
<line x1="117.11" y1="287.2" x2="117.11" y2="288.7" stroke="#333" stroke-width="0.9"/>
<line x1="142.34" y1="287.2" x2="142.34" y2="288.7" stroke="#333" stroke-width="0.9"/>
<line x1="167.57" y1="287.2" x2="167.57" y2="288.7" stroke="#333" stroke-width="0.9"/>
<text x="70.6" y="310.9" font-family="'Liberation Serif', serif" font-size="10" stroke="#222" stroke-width="0.18" font-weight="bold" textLength="67.6" lengthAdjust="spacingAndGlyphs">Wavelength (nm)</text>
<text x="19.3" y="263.3" font-family="'Liberation Serif', serif" font-size="9.3" stroke="#222" stroke-width="0.18" font-weight="bold" textLength="59.4" lengthAdjust="spacingAndGlyphs" transform="rotate(-90 19.3 263.3)">Intensity (a.u.)</text>
<line x1="72.3" y1="174.9" x2="84.6" y2="174.9" stroke="#f03a48" stroke-width="1.4"/>
<line x1="72.3" y1="184.6" x2="84.6" y2="184.6" stroke="#222" stroke-width="1.4"/>
<line x1="72.3" y1="194.8" x2="84.6" y2="194.8" stroke="#3a3ab8" stroke-width="1.4"/>
<text x="87.5" y="177.6" font-family="'Liberation Serif', serif" font-size="7.6" stroke="#f02830" stroke-width="0.18" font-weight="bold" fill="#f02830" textLength="38.6" lengthAdjust="spacingAndGlyphs">Ex @613nm</text>
<text x="87.5" y="187.4" font-family="'Liberation Serif', serif" font-size="7.6" stroke="#222" stroke-width="0.18" font-weight="bold" textLength="39.3" lengthAdjust="spacingAndGlyphs">Em@360nm</text>
<text x="87.5" y="197.3" font-family="'Liberation Serif', serif" font-size="7.6" stroke="#3030b0" stroke-width="0.18" font-weight="bold" fill="#3030b0" textLength="11.2" lengthAdjust="spacingAndGlyphs">Abs</text>
<text x="126" y="229.6" font-family="'Liberation Serif', serif" font-size="6.6" stroke="#222" stroke-width="0.18" font-weight="bold" textLength="22" lengthAdjust="spacingAndGlyphs">130nm</text>
<line x1="123.3" y1="233.4" x2="150" y2="233.4" stroke="#222" stroke-width="0.9" stroke-dasharray="1 1.3"/>
<text x="185.6" y="177.7" font-family="'Liberation Serif', serif" font-size="15.1" stroke="#222" stroke-width="0.05" textLength="19.9" lengthAdjust="spacingAndGlyphs">(e)</text>
<defs><radialGradient id="ehalo" cx="0.5" cy="0.5" r="0.5"><stop offset="0" stop-color="#ff8a20"/><stop offset="0.6" stop-color="#e05a30"/><stop offset="0.8" stop-color="#8a2e5a"/><stop offset="1" stop-color="#2a2060" stop-opacity="0"/></radialGradient><linearGradient id="eblobg" x1="0" y1="0" x2="0" y2="1"><stop offset="0" stop-color="#ffe428"/><stop offset="0.45" stop-color="#ffc21c"/><stop offset="1" stop-color="#ff8a14"/></linearGradient></defs>
<rect x="248.1" y="171" width="37" height="36.6" fill="#221c5a" stroke="none" stroke-width="1"/>
<ellipse cx="266.8" cy="192.5" rx="19" ry="18.5" fill="url(#ehalo)"/>
<path d="M257.5 186 C258.17 185.33 260.17 183.07 261.5 182 C262.83 180.93 264.08 179.77 265.5 179.6 C266.92 179.43 268.83 180.22 270 181 C271.17 181.78 271.5 183.8 272.5 184.3 C273.5 184.8 274.98 183.55 276 184 C277.02 184.45 278.52 185.83 278.6 187 C278.68 188.17 276.4 189.75 276.5 191 C276.6 192.25 278.68 193.17 279.2 194.5 C279.72 195.83 279.97 197.58 279.6 199 C279.23 200.42 278.27 201.92 277 203 C275.73 204.08 273.83 205.07 272 205.5 C270.17 205.93 268 205.85 266 205.6 C264 205.35 261.75 204.93 260 204 C258.25 203.07 256.5 201.58 255.5 200 C254.5 198.42 254.08 196.25 254 194.5 C253.92 192.75 254.42 190.92 255 189.5 C255.58 188.08 257.08 186.58 257.5 186 Z" fill="url(#eblobg)" stroke="none" stroke-width="1"/>
<g opacity="0.95">
<circle cx="262" cy="183.5" r="2.6" fill="rgb(255,218,54)"/>
<circle cx="266.5" cy="181.5" r="2.4" fill="rgb(255,220,57)"/>
<circle cx="270.5" cy="183.5" r="2.2" fill="rgb(255,227,54)"/>
<circle cx="274.5" cy="186.5" r="2.2" fill="rgb(255,199,49)"/>
<circle cx="259" cy="188" r="2.4" fill="rgb(255,208,47)"/>
<circle cx="263.5" cy="188" r="2.6" fill="rgb(255,203,47)"/>
<circle cx="268.5" cy="188" r="2.6" fill="rgb(255,193,47)"/>
<circle cx="273" cy="190" r="2.3" fill="rgb(255,200,44)"/>
<circle cx="277" cy="193" r="2" fill="rgb(255,175,39)"/>
<circle cx="257" cy="193" r="2.2" fill="rgb(255,187,39)"/>
<circle cx="261.5" cy="193.5" r="2.6" fill="rgb(255,174,38)"/>
<circle cx="266.5" cy="193.5" r="2.5" fill="rgb(255,175,38)"/>
<circle cx="271.5" cy="195" r="2.5" fill="rgb(255,179,36)"/>
<circle cx="276" cy="198" r="2.2" fill="rgb(255,181,31)"/>
<circle cx="259" cy="198.5" r="2.4" fill="rgb(255,158,30)"/>
<circle cx="264" cy="199" r="2.6" fill="rgb(255,159,29)"/>
<circle cx="269" cy="200" r="2.6" fill="rgb(255,167,28)"/>
<circle cx="273.5" cy="201.5" r="2.2" fill="rgb(255,172,25)"/>
<circle cx="262" cy="203" r="2.2" fill="rgb(255,155,23)"/>
<circle cx="267" cy="203.5" r="2.2" fill="rgb(255,148,22)"/>
</g>
<circle cx="266" cy="182" r="1.2" fill="#fff890" opacity="0.8"/>
<circle cx="262" cy="187" r="1.1" fill="#fff890" opacity="0.8"/>
<circle cx="270" cy="189" r="1.1" fill="#fff890" opacity="0.8"/>
<circle cx="265" cy="194" r="1" fill="#fff890" opacity="0.8"/>
<circle cx="260" cy="192" r="0.9" fill="#fff890" opacity="0.8"/>
<path d="M222 219.2 C222.17 218.17 222.67 214.88 223 213 C223.33 211.12 223.58 210.15 224 207.9 C224.42 205.65 225 202.03 225.5 199.5 C226 196.97 226.45 194.73 227 192.7 C227.55 190.67 228.17 188.87 228.8 187.3 C229.43 185.73 230.15 184.32 230.8 183.3 C231.45 182.28 232.08 181.65 232.7 181.2 C233.32 180.75 233.75 180.68 234.5 180.6 C235.25 180.52 236.32 180.57 237.2 180.7 C238.08 180.83 239.08 180.98 239.8 181.4 C240.52 181.82 240.98 182.27 241.5 183.2 C242.02 184.13 242.42 184.95 242.9 187 C243.38 189.05 243.9 192.02 244.4 195.5 C244.9 198.98 245.43 203.4 245.9 207.9 C246.37 212.4 246.75 217.45 247.2 222.5 C247.65 227.55 248.15 233.45 248.6 238.2 C249.05 242.95 249.43 247 249.9 251 C250.37 255 250.92 259.12 251.4 262.2 C251.88 265.28 252.33 267.3 252.8 269.5 C253.27 271.7 253.67 273.65 254.2 275.4 C254.73 277.15 255.45 278.85 256 280 C256.55 281.15 256.83 281.67 257.5 282.3 C258.17 282.93 259.13 283.45 260 283.8 C260.87 284.15 261.7 284.32 262.7 284.4 C263.7 284.48 264.78 284.4 266 284.3 C267.22 284.2 268.67 283.98 270 283.8 C271.33 283.62 272.85 283.4 274 283.2 C275.15 283 276.42 282.7 276.9 282.6" fill="none" stroke="#f07a5a" stroke-width="1"/>
<path d="M230.1 284.6 C230.92 284.58 233.35 284.55 235 284.5 C236.65 284.45 238.75 284.48 240 284.3 C241.25 284.12 241.8 284.03 242.5 283.4 C243.2 282.77 243.67 281.83 244.2 280.5 C244.73 279.17 244.98 277.65 245.7 275.4 C246.42 273.15 247.55 269.83 248.5 267 C249.45 264.17 250.52 260.98 251.4 258.4 C252.28 255.82 253.02 253.55 253.8 251.5 C254.58 249.45 255.4 247.58 256.1 246.1 C256.8 244.62 257.37 243.38 258 242.6 C258.63 241.82 259.27 241.55 259.9 241.4 C260.53 241.25 261.17 241.37 261.8 241.7 C262.43 242.03 263.08 242.58 263.7 243.4 C264.32 244.22 264.88 245.4 265.5 246.6 C266.12 247.8 266.77 249.43 267.4 250.6 C268.03 251.77 268.67 252.8 269.3 253.6 C269.93 254.4 270.63 255.05 271.2 255.4 C271.77 255.75 272.22 255.77 272.7 255.7 C273.18 255.63 273.55 255.53 274.1 255 C274.65 254.47 275.37 253.57 276 252.5 C276.63 251.43 277.35 250.02 277.9 248.6 C278.45 247.18 278.83 245.83 279.3 244 C279.77 242.17 280.2 239.93 280.7 237.6 C281.2 235.27 281.75 232.77 282.3 230 C282.85 227.23 283.45 224 284 221 C284.55 218 285.02 215.17 285.6 212 C286.18 208.83 286.85 205.08 287.5 202 C288.15 198.92 288.83 196 289.5 193.5 C290.17 191 290.83 188.78 291.5 187 C292.17 185.22 292.88 183.8 293.5 182.8 C294.12 181.8 294.7 181.35 295.2 181 C295.7 180.65 296.03 180.7 296.5 180.7 C296.97 180.7 297.45 180.68 298 181 C298.55 181.32 299.22 181.87 299.8 182.6 C300.38 183.33 300.93 184.25 301.5 185.4 C302.07 186.55 302.57 187.65 303.2 189.5 C303.83 191.35 304.52 193.58 305.3 196.5 C306.08 199.42 307.07 203.75 307.9 207 C308.73 210.25 309.45 212.83 310.3 216 C311.15 219.17 312.13 222.75 313 226 C313.87 229.25 314.58 232.33 315.5 235.5 C316.42 238.67 317.5 242.12 318.5 245 C319.5 247.88 320.42 250.3 321.5 252.8 C322.58 255.3 323.83 257.88 325 260 C326.17 262.12 327.25 263.77 328.5 265.5 C329.75 267.23 331.03 268.85 332.5 270.4 C333.97 271.95 335.88 273.62 337.3 274.8 C338.72 275.98 340.02 276.87 341 277.5 C341.98 278.13 342.83 278.42 343.2 278.6" fill="none" stroke="#3f6cc8" stroke-width="1"/>
<path d="M214.1 229 C214.25 226.67 214.68 219.83 215 215 C215.32 210.17 215.63 204.33 216 200 C216.37 195.67 216.83 191.67 217.2 189 C217.57 186.33 217.9 185.1 218.2 184 C218.5 182.9 218.58 182.32 219 182.4 C219.42 182.48 220.2 182.78 220.7 184.5 C221.2 186.22 221.62 189.62 222 192.7 C222.38 195.78 222.67 199.2 223 203 C223.33 206.8 223.67 211.33 224 215.5 C224.33 219.67 224.7 223.9 225 228 C225.3 232.1 225.37 235.93 225.8 240.1 C226.23 244.27 226.97 248.9 227.6 253 C228.23 257.1 228.95 261.45 229.6 264.7 C230.25 267.95 230.87 270.28 231.5 272.5 C232.13 274.72 232.77 276.53 233.4 278 C234.03 279.47 234.67 280.48 235.3 281.3 C235.93 282.12 236.42 282.52 237.2 282.9 C237.98 283.28 238.7 283.45 240 283.6 C241.3 283.75 243.25 283.77 245 283.8 C246.75 283.83 249.58 283.8 250.5 283.8" fill="none" stroke="#303030" stroke-width="1"/>
<path d="M251.4 285 C252.33 284.95 255.12 284.87 257 284.7 C258.88 284.53 261.28 284.28 262.7 284 C264.12 283.72 264.55 283.47 265.5 283 C266.45 282.53 267.48 281.93 268.4 281.2 C269.32 280.47 270.22 279.57 271 278.6 C271.78 277.63 272.43 276.53 273.1 275.4 C273.77 274.27 274.37 273.07 275 271.8 C275.63 270.53 276.33 269.35 276.9 267.8 C277.47 266.25 277.92 264.38 278.4 262.5 C278.88 260.62 279.37 258.67 279.8 256.5 C280.23 254.33 280.63 251.92 281 249.5 C281.37 247.08 281.67 244.5 282 242 C282.33 239.5 282.63 237.17 283 234.5 C283.37 231.83 283.77 229.75 284.2 226 C284.63 222.25 285.05 216 285.6 212 C286.15 208 286.85 205.08 287.5 202 C288.15 198.92 288.83 196 289.5 193.5 C290.17 191 290.83 188.78 291.5 187 C292.17 185.22 292.88 183.8 293.5 182.8 C294.12 181.8 294.7 181.35 295.2 181 C295.7 180.65 296.03 180.7 296.5 180.7 C296.97 180.7 297.45 180.68 298 181 C298.55 181.32 299.22 181.87 299.8 182.6 C300.38 183.33 300.93 184.25 301.5 185.4 C302.07 186.55 302.57 187.65 303.2 189.5 C303.83 191.35 304.52 193.58 305.3 196.5 C306.08 199.42 307.07 203.75 307.9 207 C308.73 210.25 309.45 212.83 310.3 216 C311.15 219.17 312.13 222.75 313 226 C313.87 229.25 314.58 232.33 315.5 235.5 C316.42 238.67 317.5 242.12 318.5 245 C319.5 247.88 320.42 250.3 321.5 252.8 C322.58 255.3 323.83 257.88 325 260 C326.17 262.12 327.25 263.77 328.5 265.5 C329.75 267.23 331.03 268.85 332.5 270.4 C333.97 271.95 335.88 273.62 337.3 274.8 C338.72 275.98 340.02 276.87 341 277.5 C341.98 278.13 342.83 278.42 343.2 278.6" fill="none" stroke="#a07cc8" stroke-width="1"/>
<rect x="207.1" y="170.7" width="144.4" height="119.4" fill="none" stroke="#7a7a7a" stroke-width="1.1"/>
<line x1="218.4" y1="290.1" x2="218.4" y2="291.9" stroke="#666" stroke-width="0.9"/>
<text x="218.4" y="298.4" font-family="'Liberation Sans', sans-serif" font-size="5.2" stroke="#333" stroke-width="0.18" fill="#333" text-anchor="middle" textLength="8.6" lengthAdjust="spacingAndGlyphs">300</text>
<line x1="241.65" y1="290.1" x2="241.65" y2="291.9" stroke="#666" stroke-width="0.9"/>
<text x="241.65" y="298.4" font-family="'Liberation Sans', sans-serif" font-size="5.2" stroke="#333" stroke-width="0.18" fill="#333" text-anchor="middle" textLength="8.6" lengthAdjust="spacingAndGlyphs">400</text>
<line x1="264.9" y1="290.1" x2="264.9" y2="291.9" stroke="#666" stroke-width="0.9"/>
<text x="264.9" y="298.4" font-family="'Liberation Sans', sans-serif" font-size="5.2" stroke="#333" stroke-width="0.18" fill="#333" text-anchor="middle" textLength="8.6" lengthAdjust="spacingAndGlyphs">500</text>
<line x1="288.15" y1="290.1" x2="288.15" y2="291.9" stroke="#666" stroke-width="0.9"/>
<text x="288.15" y="298.4" font-family="'Liberation Sans', sans-serif" font-size="5.2" stroke="#333" stroke-width="0.18" fill="#333" text-anchor="middle" textLength="8.6" lengthAdjust="spacingAndGlyphs">600</text>
<line x1="311.4" y1="290.1" x2="311.4" y2="291.9" stroke="#666" stroke-width="0.9"/>
<text x="311.4" y="298.4" font-family="'Liberation Sans', sans-serif" font-size="5.2" stroke="#333" stroke-width="0.18" fill="#333" text-anchor="middle" textLength="8.6" lengthAdjust="spacingAndGlyphs">700</text>
<line x1="334.65" y1="290.1" x2="334.65" y2="291.9" stroke="#666" stroke-width="0.9"/>
<text x="334.65" y="298.4" font-family="'Liberation Sans', sans-serif" font-size="5.2" stroke="#333" stroke-width="0.18" fill="#333" text-anchor="middle" textLength="8.6" lengthAdjust="spacingAndGlyphs">800</text>
<line x1="230.03" y1="290.1" x2="230.03" y2="291.3" stroke="#666" stroke-width="0.8"/>
<line x1="253.28" y1="290.1" x2="253.28" y2="291.3" stroke="#666" stroke-width="0.8"/>
<line x1="276.52" y1="290.1" x2="276.52" y2="291.3" stroke="#666" stroke-width="0.8"/>
<line x1="299.77" y1="290.1" x2="299.77" y2="291.3" stroke="#666" stroke-width="0.8"/>
<line x1="323.02" y1="290.1" x2="323.02" y2="291.3" stroke="#666" stroke-width="0.8"/>
<line x1="346.27" y1="290.1" x2="346.27" y2="291.3" stroke="#666" stroke-width="0.8"/>
<text x="258.6" y="303.8" font-family="'Liberation Sans', sans-serif" font-size="5.4" stroke="#333" stroke-width="0.18" fill="#333" textLength="41.3" lengthAdjust="spacingAndGlyphs">Wavelength (nm)</text>
<text x="204.5" y="266.7" font-family="'Liberation Sans', sans-serif" font-size="5.4" stroke="#333" stroke-width="0.18" fill="#333" textLength="65.7" lengthAdjust="spacingAndGlyphs" transform="rotate(-90 204.5 266.7)">Normalized intensity (a.u.)</text>
<line x1="306.1" y1="174.5" x2="318.3" y2="174.5" stroke="#303030" stroke-width="1"/>
<text x="320.2" y="176.4" font-family="'Liberation Sans', sans-serif" font-size="5.5" stroke="#333" stroke-width="0.18" fill="#333" textLength="30.2" lengthAdjust="spacingAndGlyphs">477 nm@ex</text>
<line x1="306.1" y1="181.4" x2="318.3" y2="181.4" stroke="#f07a5a" stroke-width="1"/>
<text x="320.2" y="183.3" font-family="'Liberation Sans', sans-serif" font-size="5.5" stroke="#333" stroke-width="0.18" fill="#333" textLength="30.2" lengthAdjust="spacingAndGlyphs">633 nm@ex</text>
<line x1="306.1" y1="188.3" x2="318.3" y2="188.3" stroke="#4070c8" stroke-width="1"/>
<text x="320.2" y="190.2" font-family="'Liberation Sans', sans-serif" font-size="5.5" stroke="#333" stroke-width="0.18" fill="#333" textLength="30.2" lengthAdjust="spacingAndGlyphs">300 nm@em</text>
<line x1="306.1" y1="195.3" x2="318.3" y2="195.3" stroke="#b888c8" stroke-width="1"/>
<text x="320.2" y="197.2" font-family="'Liberation Sans', sans-serif" font-size="5.5" stroke="#333" stroke-width="0.18" fill="#333" textLength="30.2" lengthAdjust="spacingAndGlyphs">400 nm@em</text>
<text x="358.6" y="162.3" font-family="'Liberation Serif', serif" font-size="16.8" stroke="#222" stroke-width="0.05" textLength="18.4" lengthAdjust="spacingAndGlyphs">(f)</text>
<path d="M386.6 186 L387.6 186 L388.6 186 L389.6 186 L390.6 186 L391.6 186 L392.6 186 L393.6 186 L394.6 186 L395.6 186 L396.6 186 L397.6 186 L398.6 186 L399.6 186 L400.6 186 L401.6 186 L402.6 186 L403.6 186 L404.6 186 L405.6 186 L406.6 186 L407.6 186 L408.6 185.99 L409.6 185.99 L410.6 185.99 L411.6 185.99 L412.6 185.99 L413.6 185.98 L414.6 185.98 L415.6 185.97 L416.6 185.97 L417.6 185.96 L418.6 185.95 L419.6 185.94 L420.6 185.93 L421.6 185.91 L422.6 185.89 L423.6 185.87 L424.6 185.84 L425.6 185.81 L426.6 185.77 L427.6 185.73 L428.6 185.68 L429.6 185.62 L430.6 185.55 L431.6 185.47 L432.6 185.37 L433.6 185.27 L434.6 185.15 L435.6 185.01 L436.6 184.85 L437.6 184.67 L438.6 184.47 L439.6 184.24 L440.6 183.99 L441.6 183.71 L442.6 183.39 L443.6 183.05 L444.6 182.67 L445.6 182.25 L446.6 181.8 L447.6 181.31 L448.6 180.78 L449.6 180.2 L450.6 179.59 L451.6 178.93 L452.6 178.23 L453.6 177.49 L454.6 176.71 L455.6 175.9 L456.6 175.04 L457.6 174.16 L458.6 173.25 L459.6 172.31 L460.6 171.36 L461.6 170.39 L462.6 169.41 L463.6 168.43 L464.6 167.45 L465.6 166.48 L466.6 165.54 L467.6 164.61 L468.6 163.72 L469.6 162.87 L470.6 162.07 L471.6 161.33 L472.6 160.64 L473.6 160.02 L474.6 159.48 L475.6 159.01 L476.6 158.63 L477.6 158.34 L478.6 158.13 L479.6 158.02 L480.6 158 L481.6 158.06 L482.6 158.2 L483.6 158.4 L484.6 158.67 L485.6 159.01 L486.6 159.41 L487.6 159.86 L488.6 160.37 L489.6 160.93 L490.6 161.54 L491.6 162.18 L492.6 162.86 L493.6 163.57 L494.6 164.31 L495.6 165.06 L496.6 165.84 L497.6 166.62 L498.6 167.41 L499.6 168.21 L500.6 169 L501.6 169.8 L502.6 170.58 L503.6 171.36 L504.6 172.12 L505.6 172.86 L506.6 173.59 L507.6 174.3 L508.6 174.99 L509.6 175.65 L510.6 176.29 L511.6 176.91 L512.6 177.5 L513.6 178.07 L514.6 178.61 L515.6 179.12 L516.6 179.61 L517.6 180.07 L518.6 180.51 L519.6 180.92 L520.6 181.31 L521.6 181.68 L522.6 182.02 L523.6 182.34 L524.6 182.64 L525.6 182.92 L526.6 183.18 L527.6 183.42 L528.6 183.64 L529.6 183.85 L530.6 184.04 L531.6 184.21 L532.6 184.38 L533.6 184.53 L534.2 184.61" fill="none" stroke="#ea4444" stroke-width="1.2"/>
<text x="388.4" y="184.4" font-family="'Liberation Serif', serif" font-size="6.7" stroke="#ea4444" stroke-width="0.18" font-weight="bold" fill="#ea4444" textLength="40.8" lengthAdjust="spacingAndGlyphs" letter-spacing="0.5">10.0%Sb</text>
<path d="M386.6 200.5 L387.6 200.5 L388.6 200.5 L389.6 200.5 L390.6 200.5 L391.6 200.5 L392.6 200.5 L393.6 200.5 L394.6 200.5 L395.6 200.5 L396.6 200.5 L397.6 200.5 L398.6 200.5 L399.6 200.5 L400.6 200.5 L401.6 200.5 L402.6 200.5 L403.6 200.5 L404.6 200.5 L405.6 200.5 L406.6 200.5 L407.6 200.5 L408.6 200.49 L409.6 200.49 L410.6 200.49 L411.6 200.49 L412.6 200.49 L413.6 200.48 L414.6 200.48 L415.6 200.47 L416.6 200.47 L417.6 200.46 L418.6 200.45 L419.6 200.44 L420.6 200.43 L421.6 200.41 L422.6 200.39 L423.6 200.37 L424.6 200.34 L425.6 200.31 L426.6 200.27 L427.6 200.23 L428.6 200.18 L429.6 200.12 L430.6 200.05 L431.6 199.97 L432.6 199.87 L433.6 199.77 L434.6 199.65 L435.6 199.51 L436.6 199.35 L437.6 199.17 L438.6 198.97 L439.6 198.74 L440.6 198.49 L441.6 198.21 L442.6 197.89 L443.6 197.55 L444.6 197.17 L445.6 196.75 L446.6 196.3 L447.6 195.81 L448.6 195.28 L449.6 194.7 L450.6 194.09 L451.6 193.43 L452.6 192.73 L453.6 191.99 L454.6 191.21 L455.6 190.4 L456.6 189.54 L457.6 188.66 L458.6 187.75 L459.6 186.81 L460.6 185.86 L461.6 184.89 L462.6 183.91 L463.6 182.93 L464.6 181.95 L465.6 180.98 L466.6 180.04 L467.6 179.11 L468.6 178.22 L469.6 177.37 L470.6 176.57 L471.6 175.83 L472.6 175.14 L473.6 174.52 L474.6 173.98 L475.6 173.51 L476.6 173.13 L477.6 172.84 L478.6 172.63 L479.6 172.52 L480.6 172.5 L481.6 172.56 L482.6 172.7 L483.6 172.9 L484.6 173.17 L485.6 173.51 L486.6 173.91 L487.6 174.36 L488.6 174.87 L489.6 175.43 L490.6 176.04 L491.6 176.68 L492.6 177.36 L493.6 178.07 L494.6 178.81 L495.6 179.56 L496.6 180.34 L497.6 181.12 L498.6 181.91 L499.6 182.71 L500.6 183.5 L501.6 184.3 L502.6 185.08 L503.6 185.86 L504.6 186.62 L505.6 187.36 L506.6 188.09 L507.6 188.8 L508.6 189.49 L509.6 190.15 L510.6 190.79 L511.6 191.41 L512.6 192 L513.6 192.57 L514.6 193.11 L515.6 193.62 L516.6 194.11 L517.6 194.57 L518.6 195.01 L519.6 195.42 L520.6 195.81 L521.6 196.18 L522.6 196.52 L523.6 196.84 L524.6 197.14 L525.6 197.42 L526.6 197.68 L527.6 197.92 L528.6 198.14 L529.6 198.35 L530.6 198.54 L531.6 198.71 L532.6 198.88 L533.6 199.03 L534.2 199.11" fill="none" stroke="#d84848" stroke-width="1.2"/>
<text x="388.4" y="199.9" font-family="'Liberation Serif', serif" font-size="6.7" stroke="#d84848" stroke-width="0.18" font-weight="bold" fill="#d84848" textLength="35.3" lengthAdjust="spacingAndGlyphs" letter-spacing="0.5">5.0%Sb</text>
<path d="M386.6 215.5 L387.6 215.5 L388.6 215.5 L389.6 215.5 L390.6 215.5 L391.6 215.5 L392.6 215.5 L393.6 215.5 L394.6 215.5 L395.6 215.5 L396.6 215.5 L397.6 215.5 L398.6 215.5 L399.6 215.5 L400.6 215.5 L401.6 215.5 L402.6 215.5 L403.6 215.5 L404.6 215.5 L405.6 215.5 L406.6 215.5 L407.6 215.5 L408.6 215.49 L409.6 215.49 L410.6 215.49 L411.6 215.49 L412.6 215.49 L413.6 215.48 L414.6 215.48 L415.6 215.47 L416.6 215.47 L417.6 215.46 L418.6 215.45 L419.6 215.44 L420.6 215.43 L421.6 215.41 L422.6 215.39 L423.6 215.37 L424.6 215.34 L425.6 215.31 L426.6 215.27 L427.6 215.23 L428.6 215.18 L429.6 215.12 L430.6 215.04 L431.6 214.96 L432.6 214.87 L433.6 214.76 L434.6 214.64 L435.6 214.5 L436.6 214.34 L437.6 214.16 L438.6 213.96 L439.6 213.73 L440.6 213.47 L441.6 213.19 L442.6 212.88 L443.6 212.53 L444.6 212.15 L445.6 211.73 L446.6 211.27 L447.6 210.77 L448.6 210.24 L449.6 209.66 L450.6 209.04 L451.6 208.38 L452.6 207.67 L453.6 206.93 L454.6 206.15 L455.6 205.32 L456.6 204.47 L457.6 203.58 L458.6 202.66 L459.6 201.72 L460.6 200.75 L461.6 199.78 L462.6 198.79 L463.6 197.8 L464.6 196.82 L465.6 195.85 L466.6 194.89 L467.6 193.96 L468.6 193.06 L469.6 192.21 L470.6 191.4 L471.6 190.65 L472.6 189.96 L473.6 189.34 L474.6 188.79 L475.6 188.32 L476.6 187.94 L477.6 187.64 L478.6 187.44 L479.6 187.32 L480.6 187.3 L481.6 187.36 L482.6 187.5 L483.6 187.7 L484.6 187.98 L485.6 188.32 L486.6 188.72 L487.6 189.18 L488.6 189.69 L489.6 190.26 L490.6 190.86 L491.6 191.51 L492.6 192.2 L493.6 192.91 L494.6 193.65 L495.6 194.41 L496.6 195.19 L497.6 195.98 L498.6 196.78 L499.6 197.58 L500.6 198.38 L501.6 199.18 L502.6 199.97 L503.6 200.75 L504.6 201.52 L505.6 202.27 L506.6 203 L507.6 203.72 L508.6 204.41 L509.6 205.08 L510.6 205.73 L511.6 206.35 L512.6 206.94 L513.6 207.51 L514.6 208.06 L515.6 208.57 L516.6 209.07 L517.6 209.53 L518.6 209.97 L519.6 210.39 L520.6 210.78 L521.6 211.15 L522.6 211.49 L523.6 211.81 L524.6 212.11 L525.6 212.4 L526.6 212.66 L527.6 212.9 L528.6 213.12 L529.6 213.33 L530.6 213.52 L531.6 213.7 L532.6 213.86 L533.6 214.02 L534.2 214.1" fill="none" stroke="#c64848" stroke-width="1.2"/>
<text x="388.4" y="214.7" font-family="'Liberation Serif', serif" font-size="6.7" stroke="#c64848" stroke-width="0.18" font-weight="bold" fill="#c64848" textLength="35.3" lengthAdjust="spacingAndGlyphs" letter-spacing="0.5">1.0%Sb</text>
<path d="M386.6 230.1 L387.6 230.1 L388.6 230.1 L389.6 230.1 L390.6 230.1 L391.6 230.1 L392.6 230.1 L393.6 230.1 L394.6 230.1 L395.6 230.1 L396.6 230.1 L397.6 230.1 L398.6 230.1 L399.6 230.1 L400.6 230.1 L401.6 230.1 L402.6 230.1 L403.6 230.1 L404.6 230.1 L405.6 230.1 L406.6 230.1 L407.6 230.1 L408.6 230.09 L409.6 230.09 L410.6 230.09 L411.6 230.09 L412.6 230.09 L413.6 230.08 L414.6 230.08 L415.6 230.07 L416.6 230.07 L417.6 230.06 L418.6 230.05 L419.6 230.04 L420.6 230.03 L421.6 230.01 L422.6 229.99 L423.6 229.97 L424.6 229.94 L425.6 229.91 L426.6 229.87 L427.6 229.83 L428.6 229.77 L429.6 229.71 L430.6 229.64 L431.6 229.56 L432.6 229.47 L433.6 229.36 L434.6 229.23 L435.6 229.09 L436.6 228.93 L437.6 228.75 L438.6 228.55 L439.6 228.32 L440.6 228.06 L441.6 227.77 L442.6 227.46 L443.6 227.11 L444.6 226.72 L445.6 226.3 L446.6 225.84 L447.6 225.34 L448.6 224.8 L449.6 224.22 L450.6 223.59 L451.6 222.93 L452.6 222.22 L453.6 221.47 L454.6 220.68 L455.6 219.85 L456.6 218.99 L457.6 218.09 L458.6 217.17 L459.6 216.22 L460.6 215.25 L461.6 214.27 L462.6 213.27 L463.6 212.28 L464.6 211.29 L465.6 210.31 L466.6 209.34 L467.6 208.41 L468.6 207.51 L469.6 206.64 L470.6 205.83 L471.6 205.07 L472.6 204.38 L473.6 203.75 L474.6 203.2 L475.6 202.73 L476.6 202.34 L477.6 202.04 L478.6 201.84 L479.6 201.72 L480.6 201.7 L481.6 201.76 L482.6 201.9 L483.6 202.11 L484.6 202.38 L485.6 202.72 L486.6 203.13 L487.6 203.59 L488.6 204.11 L489.6 204.68 L490.6 205.29 L491.6 205.94 L492.6 206.63 L493.6 207.35 L494.6 208.1 L495.6 208.86 L496.6 209.65 L497.6 210.44 L498.6 211.25 L499.6 212.05 L500.6 212.86 L501.6 213.66 L502.6 214.46 L503.6 215.25 L504.6 216.02 L505.6 216.78 L506.6 217.51 L507.6 218.23 L508.6 218.93 L509.6 219.61 L510.6 220.26 L511.6 220.88 L512.6 221.48 L513.6 222.06 L514.6 222.6 L515.6 223.13 L516.6 223.62 L517.6 224.09 L518.6 224.53 L519.6 224.95 L520.6 225.35 L521.6 225.72 L522.6 226.06 L523.6 226.39 L524.6 226.69 L525.6 226.97 L526.6 227.24 L527.6 227.48 L528.6 227.71 L529.6 227.92 L530.6 228.11 L531.6 228.29 L532.6 228.45 L533.6 228.6 L534.2 228.69" fill="none" stroke="#b24444" stroke-width="1.2"/>
<text x="388.4" y="229" font-family="'Liberation Serif', serif" font-size="6.7" stroke="#b24444" stroke-width="0.18" font-weight="bold" fill="#b24444" textLength="35.3" lengthAdjust="spacingAndGlyphs" letter-spacing="0.5">0.5%Sb</text>
<path d="M386.6 245.3 L387.6 245.3 L388.6 245.3 L389.6 245.3 L390.6 245.3 L391.6 245.3 L392.6 245.3 L393.6 245.3 L394.6 245.3 L395.6 245.3 L396.6 245.3 L397.6 245.3 L398.6 245.3 L399.6 245.3 L400.6 245.3 L401.6 245.3 L402.6 245.3 L403.6 245.3 L404.6 245.3 L405.6 245.3 L406.6 245.3 L407.6 245.3 L408.6 245.29 L409.6 245.29 L410.6 245.29 L411.6 245.29 L412.6 245.29 L413.6 245.28 L414.6 245.28 L415.6 245.27 L416.6 245.27 L417.6 245.26 L418.6 245.25 L419.6 245.24 L420.6 245.22 L421.6 245.21 L422.6 245.19 L423.6 245.17 L424.6 245.14 L425.6 245.1 L426.6 245.07 L427.6 245.02 L428.6 244.97 L429.6 244.9 L430.6 244.83 L431.6 244.75 L432.6 244.65 L433.6 244.54 L434.6 244.41 L435.6 244.27 L436.6 244.11 L437.6 243.92 L438.6 243.71 L439.6 243.48 L440.6 243.22 L441.6 242.92 L442.6 242.6 L443.6 242.24 L444.6 241.85 L445.6 241.42 L446.6 240.95 L447.6 240.44 L448.6 239.89 L449.6 239.29 L450.6 238.66 L451.6 237.98 L452.6 237.25 L453.6 236.49 L454.6 235.68 L455.6 234.83 L456.6 233.95 L457.6 233.04 L458.6 232.09 L459.6 231.13 L460.6 230.14 L461.6 229.13 L462.6 228.12 L463.6 227.1 L464.6 226.09 L465.6 225.09 L466.6 224.11 L467.6 223.15 L468.6 222.23 L469.6 221.35 L470.6 220.52 L471.6 219.74 L472.6 219.03 L473.6 218.4 L474.6 217.83 L475.6 217.35 L476.6 216.96 L477.6 216.65 L478.6 216.44 L479.6 216.32 L480.6 216.3 L481.6 216.37 L482.6 216.5 L483.6 216.71 L484.6 217 L485.6 217.34 L486.6 217.76 L487.6 218.23 L488.6 218.76 L489.6 219.34 L490.6 219.96 L491.6 220.63 L492.6 221.34 L493.6 222.07 L494.6 222.83 L495.6 223.62 L496.6 224.42 L497.6 225.23 L498.6 226.05 L499.6 226.87 L500.6 227.7 L501.6 228.52 L502.6 229.33 L503.6 230.13 L504.6 230.92 L505.6 231.69 L506.6 232.45 L507.6 233.18 L508.6 233.89 L509.6 234.58 L510.6 235.25 L511.6 235.89 L512.6 236.5 L513.6 237.09 L514.6 237.65 L515.6 238.18 L516.6 238.68 L517.6 239.16 L518.6 239.62 L519.6 240.04 L520.6 240.45 L521.6 240.82 L522.6 241.18 L523.6 241.51 L524.6 241.82 L525.6 242.11 L526.6 242.38 L527.6 242.62 L528.6 242.86 L529.6 243.07 L530.6 243.27 L531.6 243.45 L532.6 243.62 L533.6 243.77 L534.2 243.86" fill="none" stroke="#983c3c" stroke-width="1.2"/>
<text x="388.4" y="244.4" font-family="'Liberation Serif', serif" font-size="6.7" stroke="#983c3c" stroke-width="0.18" font-weight="bold" fill="#983c3c" textLength="35.3" lengthAdjust="spacingAndGlyphs" letter-spacing="0.5">0.1%Sb</text>
<path d="M386.6 259.9 L387.6 259.9 L388.6 259.9 L389.6 259.9 L390.6 259.9 L391.6 259.9 L392.6 259.9 L393.6 259.9 L394.6 259.9 L395.6 259.9 L396.6 259.9 L397.6 259.9 L398.6 259.9 L399.6 259.9 L400.6 259.9 L401.6 259.9 L402.6 259.9 L403.6 259.9 L404.6 259.9 L405.6 259.9 L406.6 259.9 L407.6 259.9 L408.6 259.89 L409.6 259.89 L410.6 259.89 L411.6 259.89 L412.6 259.89 L413.6 259.88 L414.6 259.88 L415.6 259.87 L416.6 259.87 L417.6 259.86 L418.6 259.85 L419.6 259.84 L420.6 259.83 L421.6 259.81 L422.6 259.79 L423.6 259.77 L424.6 259.74 L425.6 259.71 L426.6 259.67 L427.6 259.62 L428.6 259.57 L429.6 259.51 L430.6 259.44 L431.6 259.35 L432.6 259.26 L433.6 259.15 L434.6 259.02 L435.6 258.88 L436.6 258.72 L437.6 258.54 L438.6 258.33 L439.6 258.1 L440.6 257.84 L441.6 257.55 L442.6 257.23 L443.6 256.88 L444.6 256.49 L445.6 256.06 L446.6 255.6 L447.6 255.09 L448.6 254.54 L449.6 253.96 L450.6 253.33 L451.6 252.65 L452.6 251.94 L453.6 251.18 L454.6 250.38 L455.6 249.54 L456.6 248.67 L457.6 247.77 L458.6 246.83 L459.6 245.87 L460.6 244.89 L461.6 243.9 L462.6 242.89 L463.6 241.89 L464.6 240.89 L465.6 239.9 L466.6 238.92 L467.6 237.98 L468.6 237.07 L469.6 236.2 L470.6 235.37 L471.6 234.61 L472.6 233.91 L473.6 233.27 L474.6 232.72 L475.6 232.24 L476.6 231.85 L477.6 231.55 L478.6 231.34 L479.6 231.22 L480.6 231.2 L481.6 231.26 L482.6 231.4 L483.6 231.61 L484.6 231.89 L485.6 232.23 L486.6 232.64 L487.6 233.11 L488.6 233.63 L489.6 234.21 L490.6 234.83 L491.6 235.49 L492.6 236.18 L493.6 236.91 L494.6 237.67 L495.6 238.44 L496.6 239.23 L497.6 240.04 L498.6 240.85 L499.6 241.66 L500.6 242.48 L501.6 243.29 L502.6 244.1 L503.6 244.89 L504.6 245.67 L505.6 246.43 L506.6 247.18 L507.6 247.91 L508.6 248.61 L509.6 249.29 L510.6 249.95 L511.6 250.58 L512.6 251.19 L513.6 251.77 L514.6 252.32 L515.6 252.85 L516.6 253.35 L517.6 253.83 L518.6 254.27 L519.6 254.7 L520.6 255.1 L521.6 255.47 L522.6 255.82 L523.6 256.15 L524.6 256.45 L525.6 256.74 L526.6 257.01 L527.6 257.25 L528.6 257.48 L529.6 257.69 L530.6 257.89 L531.6 258.07 L532.6 258.24 L533.6 258.39 L534.2 258.47" fill="none" stroke="#7a3232" stroke-width="1.2"/>
<text x="388.4" y="257.7" font-family="'Liberation Serif', serif" font-size="6.7" stroke="#7a3232" stroke-width="0.18" font-weight="bold" fill="#7a3232" textLength="41" lengthAdjust="spacingAndGlyphs" letter-spacing="0.5">0.01%Sb</text>
<path d="M386.6 269.13 L387.3 268.05 L388 266.91 L388.7 265.72 L389.4 264.56 L390.1 263.46 L390.8 262.5 L391.5 261.74 L392.2 261.22 L392.9 260.99 L393.6 261.06 L394.3 261.44 L395 262.09 L395.7 263 L396.4 264.09 L397.1 265.31 L397.8 266.6 L398.5 267.89 L399.2 269.14 L399.9 270.29 L400.6 271.33 L401.3 272.23 L402 272.99 L402.7 273.62 L403.4 274.12 L404.1 274.51 L404.8 274.81 L405.5 275.03 L406.2 275.19 L406.9 275.31 L407.6 275.39 L408.3 275.45 L409 275.49 L409.7 275.52 L410.4 275.54 L411.1 275.55 L411.8 275.56 L412.5 275.57 L413.2 275.57 L413.9 275.57 L414.6 275.57 L415.3 275.57 L416 275.57 L416.7 275.57 L417.4 275.56 L418.1 275.56 L418.8 275.55 L419.5 275.54 L420.2 275.54 L420.9 275.53 L421.6 275.52 L422.3 275.5 L423 275.49 L423.7 275.47 L424.4 275.46 L425.1 275.44 L425.8 275.41 L426.5 275.39 L427.2 275.36 L427.9 275.33 L428.6 275.3 L429.3 275.26 L430 275.21 L430.7 275.17 L431.4 275.11 L432.1 275.05 L432.8 274.99 L433.5 274.92 L434.2 274.84 L434.9 274.75 L435.6 274.66 L436.3 274.56 L437 274.44 L437.7 274.32 L438.4 274.19 L439.1 274.05 L439.8 273.89 L440.5 273.72 L441.2 273.54 L441.9 273.34 L442.6 273.13 L443.3 272.91 L444 272.67 L444.7 272.41 L445.4 272.14 L446.1 271.84 L446.8 271.54 L447.5 271.21 L448.2 270.86 L448.9 270.5 L449.6 270.11 L450.3 269.71 L451 269.28 L451.7 268.84 L452.4 268.38 L453.1 267.9 L453.8 267.4 L454.5 266.88 L455.2 266.35 L455.9 265.8 L456.6 265.23 L457.3 264.65 L458 264.05 L458.7 263.45 L459.4 262.83 L460.1 262.2 L460.8 261.56 L461.5 260.92 L462.2 260.27 L462.9 259.62 L463.6 258.97 L464.3 258.32 L465 257.68 L465.7 257.04 L466.4 256.41 L467.1 255.79 L467.8 255.19 L468.5 254.6 L469.2 254.03 L469.9 253.48 L470.6 252.95 L471.3 252.45 L472 251.98 L472.7 251.54 L473.4 251.13 L474.1 250.75 L474.8 250.41 L475.5 250.1 L476.2 249.83 L476.9 249.61 L477.6 249.42 L478.3 249.28 L479 249.17 L479.7 249.12 L480.4 249.1 L481.1 249.12 L481.8 249.18 L482.5 249.27 L483.2 249.39 L483.9 249.55 L484.6 249.74 L485.3 249.95 L486 250.2 L486.7 250.47 L487.4 250.77 L488.1 251.1 L488.8 251.45 L489.5 251.82 L490.2 252.22 L490.9 252.63 L491.6 253.06 L492.3 253.51 L493 253.97 L493.7 254.44 L494.4 254.93 L495.1 255.43 L495.8 255.93 L496.5 256.44 L497.2 256.96 L497.9 257.48 L498.6 258.01 L499.3 258.54 L500 259.06 L500.7 259.59 L501.4 260.11 L502.1 260.64 L502.8 261.15 L503.5 261.67 L504.2 262.17 L504.9 262.67 L505.6 263.17 L506.3 263.65 L507 264.13 L507.7 264.59 L508.4 265.05 L509.1 265.5 L509.8 265.93 L510.5 266.35 L511.2 266.77 L511.9 267.17 L512.6 267.56 L513.3 267.94 L514 268.3 L514.7 268.66 L515.4 269 L516.1 269.33 L516.8 269.64 L517.5 269.95 L518.2 270.24 L518.9 270.53 L519.6 270.8 L520.3 271.06 L521 271.3 L521.7 271.54 L522.4 271.77 L523.1 271.99 L523.8 272.19 L524.5 272.39 L525.2 272.58 L525.9 272.76 L526.6 272.93 L527.3 273.09 L528 273.24 L528.7 273.39 L529.4 273.52 L530.1 273.65 L530.8 273.78 L531.5 273.89 L532.2 274 L532.9 274.11 L533.6 274.2 L534.2 274.28" fill="none" stroke="#4a2222" stroke-width="1.2"/>
<text x="403.6" y="269.5" font-family="'Liberation Serif', serif" font-size="6.7" stroke="#4a2222" stroke-width="0.18" font-weight="bold" fill="#4a2222" textLength="45.9" lengthAdjust="spacingAndGlyphs" letter-spacing="0.5">0.001%Sb</text>
<path d="M386.6 289.1 L387.1 288.7 L387.6 288.21 L388.1 287.61 L388.6 286.89 L389.1 286.05 L389.6 285.08 L390.1 283.98 L390.6 282.76 L391.1 281.43 L391.6 280 L392.1 278.51 L392.6 276.99 L393.1 275.48 L393.6 274.02 L394.1 272.66 L394.6 271.45 L395.1 270.42 L395.6 269.62 L396.1 269.08 L396.6 268.82 L397.1 268.83 L397.6 269.02 L398.1 269.37 L398.6 269.89 L399.1 270.55 L399.6 271.34 L400.1 272.24 L400.6 273.24 L401.1 274.31 L401.6 275.44 L402.1 276.6 L402.6 277.77 L403.1 278.93 L403.6 280.07 L404.1 281.16 L404.6 282.21 L405.1 283.2 L405.6 284.12 L406.1 284.96 L406.6 285.73 L407.1 286.42 L407.6 287.04 L408.1 287.58 L408.6 288.05 L409.1 288.46 L409.6 288.82 L410.1 289.11 L410.6 289.36 L411.1 289.57 L411.6 289.74 L412.1 289.88 L412.6 290 L413.1 290.09 L413.6 290.16 L414.1 290.22 L414.6 290.26 L415.1 290.3 L415.6 290.32 L416.1 290.34 L416.6 290.36 L417.1 290.37 L417.6 290.38 L418.1 290.38 L418.6 290.39 L419.1 290.39 L419.6 290.39 L420.1 290.4 L420.6 290.4 L421.1 290.4 L421.6 290.4 L422.1 290.4 L422.6 290.4 L423.1 290.4 L423.6 290.4 L424.1 290.4 L424.6 290.4 L425.1 290.4 L425.6 290.4 L426.1 290.4 L426.6 290.4 L427.1 290.4 L427.6 290.4 L428.1 290.4 L428.6 290.4 L429.1 290.4 L429.6 290.4 L430.1 290.4 L430.6 290.4 L431.1 290.4 L431.6 290.4 L432.1 290.4 L432.6 290.4 L433.1 290.4 L433.6 290.4 L434.1 290.4 L434.6 290.4 L435.1 290.4 L435.6 290.4 L436.1 290.4 L436.6 290.4 L437.1 290.4 L437.6 290.4 L438.1 290.4 L438.6 290.4 L439.1 290.4 L439.6 290.4 L440.1 290.4 L440.6 290.4 L441.1 290.4 L441.6 290.4 L442.1 290.4 L442.6 290.4 L443.1 290.4 L443.6 290.4 L444.1 290.4 L444.6 290.4 L445.1 290.4 L445.6 290.4 L446.1 290.4 L446.6 290.4 L447.1 290.4 L447.6 290.4 L448.1 290.4 L448.6 290.4 L449.1 290.4 L449.6 290.4 L450.1 290.4 L450.6 290.4 L451.1 290.4 L451.6 290.4 L452.1 290.4 L452.6 290.4 L453.1 290.4 L453.6 290.4 L454.1 290.4 L454.6 290.4 L455.1 290.4 L455.6 290.4 L456.1 290.4 L456.6 290.4 L457.1 290.4 L457.6 290.4 L458.1 290.4 L458.6 290.4 L459.1 290.4 L459.6 290.4 L460.1 290.4 L460.6 290.4 L461.1 290.4 L461.6 290.4 L462.1 290.4 L462.6 290.4 L463.1 290.4 L463.6 290.4 L464.1 290.4 L464.6 290.4 L465.1 290.4 L465.6 290.4 L466.1 290.4 L466.6 290.4 L467.1 290.4 L467.6 290.4 L468.1 290.4 L468.6 290.4 L469.1 290.4 L469.6 290.4 L470.1 290.4 L470.6 290.4 L471.1 290.4 L471.6 290.4 L472.1 290.4 L472.6 290.4 L473.1 290.4 L473.6 290.4 L474.1 290.4 L474.6 290.4 L475.1 290.4 L475.6 290.4 L476.1 290.4 L476.6 290.4 L477.1 290.4 L477.6 290.4 L478.1 290.4 L478.6 290.4 L479.1 290.4 L479.6 290.4 L480.1 290.4 L480.6 290.4 L481.1 290.4 L481.6 290.4 L482.1 290.4 L482.6 290.4 L483.1 290.4 L483.6 290.4 L484.1 290.4 L484.6 290.4 L485.1 290.4 L485.6 290.4 L486.1 290.4 L486.6 290.4 L487.1 290.4 L487.6 290.4 L488.1 290.4 L488.6 290.4 L489.1 290.4 L489.6 290.4 L490.1 290.4 L490.6 290.4 L491.1 290.4 L491.6 290.4 L492.1 290.4 L492.6 290.4 L493.1 290.4 L493.6 290.4 L494.1 290.4 L494.6 290.4 L495.1 290.4 L495.6 290.4 L496.1 290.4 L496.6 290.4 L497.1 290.4 L497.6 290.4 L498.1 290.4 L498.6 290.4 L499.1 290.4 L499.6 290.4 L500.1 290.4 L500.6 290.4 L501.1 290.4 L501.6 290.4 L502 290.4" fill="none" stroke="#1a1a1a" stroke-width="1.2"/>
<text x="415.8" y="289" font-family="'Liberation Serif', serif" font-size="6.7" stroke="#1a1a1a" stroke-width="0.18" font-weight="bold" fill="#1a1a1a" textLength="33.4" lengthAdjust="spacingAndGlyphs" letter-spacing="0.5">Cd-Pvk</text>
<text x="476.7" y="285.6" font-family="'Liberation Serif', serif" font-size="6.4" stroke="#1a1a1a" stroke-width="0.18" font-weight="bold" fill="#1a1a1a" textLength="16.4" lengthAdjust="spacingAndGlyphs">615</text>
<line x1="474.2" y1="290" x2="483" y2="286.3" stroke="#1a1a1a" stroke-width="0.8"/>
<rect x="385.9" y="154.6" width="148.9" height="138.4" fill="none" stroke="#151515" stroke-width="1.6"/>
<line x1="404.2" y1="293" x2="404.2" y2="295.2" stroke="#151515" stroke-width="1"/>
<text x="396.2" y="301.9" font-family="'Liberation Serif', serif" font-size="6.4" stroke="#222" stroke-width="0.18" font-weight="bold" textLength="16" lengthAdjust="spacingAndGlyphs" letter-spacing="0.4">400</text>
<line x1="436.3" y1="293" x2="436.3" y2="295.2" stroke="#151515" stroke-width="1"/>
<text x="428.3" y="301.9" font-family="'Liberation Serif', serif" font-size="6.4" stroke="#222" stroke-width="0.18" font-weight="bold" textLength="16" lengthAdjust="spacingAndGlyphs" letter-spacing="0.4">500</text>
<line x1="468.4" y1="293" x2="468.4" y2="295.2" stroke="#151515" stroke-width="1"/>
<text x="460.4" y="301.9" font-family="'Liberation Serif', serif" font-size="6.4" stroke="#222" stroke-width="0.18" font-weight="bold" textLength="16" lengthAdjust="spacingAndGlyphs" letter-spacing="0.4">600</text>
<line x1="500.5" y1="293" x2="500.5" y2="295.2" stroke="#151515" stroke-width="1"/>
<text x="492.5" y="301.9" font-family="'Liberation Serif', serif" font-size="6.4" stroke="#222" stroke-width="0.18" font-weight="bold" textLength="16" lengthAdjust="spacingAndGlyphs" letter-spacing="0.4">700</text>
<line x1="532.6" y1="293" x2="532.6" y2="295.2" stroke="#151515" stroke-width="1"/>
<text x="524.6" y="301.9" font-family="'Liberation Serif', serif" font-size="6.4" stroke="#222" stroke-width="0.18" font-weight="bold" textLength="16" lengthAdjust="spacingAndGlyphs" letter-spacing="0.4">800</text>
<line x1="388.15" y1="293" x2="388.15" y2="294.4" stroke="#151515" stroke-width="0.9"/>
<line x1="420.25" y1="293" x2="420.25" y2="294.4" stroke="#151515" stroke-width="0.9"/>
<line x1="452.35" y1="293" x2="452.35" y2="294.4" stroke="#151515" stroke-width="0.9"/>
<line x1="484.45" y1="293" x2="484.45" y2="294.4" stroke="#151515" stroke-width="0.9"/>
<line x1="516.55" y1="293" x2="516.55" y2="294.4" stroke="#151515" stroke-width="0.9"/>
<text x="411.2" y="310.4" font-family="'Liberation Serif', serif" font-size="9.6" stroke="#1a1a1a" stroke-width="0.18" font-weight="bold" fill="#1a1a1a" textLength="105.3" lengthAdjust="spacingAndGlyphs" letter-spacing="1.0">Wavelength (nm)</text>
<text x="381" y="250.9" font-family="'Liberation Serif', serif" font-size="12" stroke="#1a1a1a" stroke-width="0.18" font-weight="bold" fill="#1a1a1a" textLength="61.5" lengthAdjust="spacingAndGlyphs" transform="rotate(-90 381 250.9)">PL intensity (a.u.)</text>
</svg>
</body></html>
